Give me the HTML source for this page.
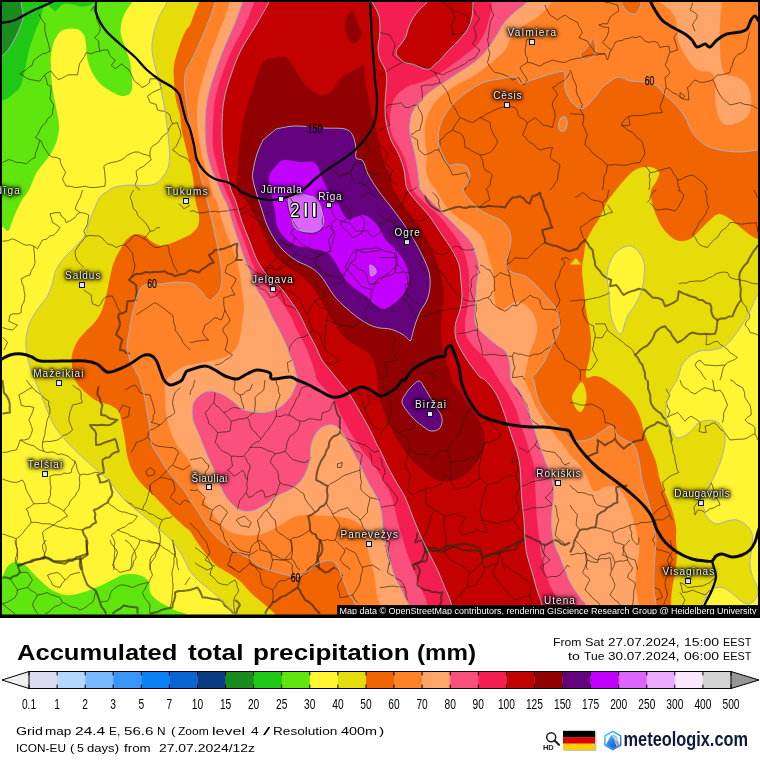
<!DOCTYPE html>
<html><head><meta charset="utf-8"><title>Accumulated total precipitation</title>
<style>
html,body{margin:0;padding:0;background:#fff}
body{width:760px;height:760px;position:relative;overflow:hidden;font-family:"Liberation Sans",sans-serif;color:#000}
#map{position:absolute;left:0;top:0;width:760px;height:618px;overflow:hidden}
#all{position:absolute;left:0;top:0;width:760px;height:760px;will-change:transform;opacity:0.9999}
.ct{position:absolute;font-size:10px;line-height:12px;color:#ededed;white-space:nowrap;
 text-shadow:0 0 2px #000,0 0 3px #000,0 0 3px #000,0 0 4px #000,0 0 5px #000,0 0 6px rgba(0,0,0,0.7)}
.t{position:absolute;white-space:nowrap;transform-origin:0 0}
.tt{top:640px;font-size:21.6px;line-height:26px;font-weight:bold}
</style></head><body><div id="all">
<div id="map">
<svg width="760" height="618" viewBox="0 0 760 618" style="position:absolute;left:0;top:0;display:block">
<g shape-rendering="geometricPrecision">
<path d="M-20,-20H800V640H-20Z" fill="#fff532"/>
<path d="M133,-8C132.8,-6.3 132.5,-0.2 132,2C131.5,4.2 131.3,2.8 130,5C128.7,7.2 125.5,11.7 124,15C122.5,18.3 121.5,21.7 121,25C120.5,28.3 120.3,31.3 121,35C121.7,38.7 123.5,42.5 125,47C126.5,51.5 128.8,56.5 130,62C131.2,67.5 131.8,75 132,80C132.2,85 132.7,89.3 131,92C129.3,94.7 126,96.5 122,96C118,95.5 111.2,91.7 107,89C102.8,86.3 99.7,83.2 97,80C94.3,76.8 92.7,73.8 91,70C89.3,66.2 87.8,61.2 87,57C86.2,52.8 86.5,48.7 86,45C85.5,41.3 85.5,37.7 84,35C82.5,32.3 79.8,30 77,29C74.2,28 69.8,28.5 67,29C64.2,29.5 62.2,29.8 60,32C57.8,34.2 55.5,38.2 54,42C52.5,45.8 51.5,50.8 51,55C50.5,59.2 50.8,62 51,67C51.2,72 51.2,78.3 52,85C52.8,91.7 54.8,100.3 56,107C57.2,113.7 58.8,119.5 59,125C59.2,130.5 58.5,135 57,140C55.5,145 53.3,149.7 50,155C46.7,160.3 40.5,166.2 37,172C33.5,177.8 31.5,185.3 29,190C26.5,194.7 24.2,196.3 22,200C19.8,203.7 17.7,208.3 16,212C14.3,215.7 13.3,218.8 12,222C10.7,225.2 9.5,230.2 8,231C6.5,231.8 5.7,228.5 3,227C0.3,225.5 -6.2,222.8 -8,222L-20,-20Z" fill="#5fe60f"/>
<path d="M-8,585C-6.3,583.7 -0.5,580 2,577C4.5,574 4.8,569.5 7,567C9.2,564.5 12,562.3 15,562C18,561.7 22.2,563.3 25,565C27.8,566.7 29.2,569.2 32,572C34.8,574.8 38.7,579 42,582C45.3,585 48.2,587.8 52,590C55.8,592.2 60.8,594.3 65,595C69.2,595.7 72.8,594.8 77,594C81.2,593.2 85.8,591.5 90,590C94.2,588.5 98.3,586.7 102,585C105.7,583.3 108.7,581.7 112,580C115.3,578.3 118.7,576 122,575C125.3,574 128.7,573.8 132,574C135.3,574.2 139.2,574.7 142,576C144.8,577.3 147.7,579.3 149,582C150.3,584.7 148.7,589 150,592C151.3,595 154.2,597.7 157,600C159.8,602.3 163.7,604.2 167,606C170.3,607.8 173.8,609.7 177,611C180.2,612.3 182.8,612.2 186,614C189.2,615.8 194.3,620.7 196,622L196,640L-20,640Z" fill="#5fe60f"/>
<path d="M97,-8C96.5,-6.5 95,-1.2 94,1C93,3.2 93,4.1 91,5C89,5.9 84.9,6.6 82,6.5C79.1,6.4 76.3,5 73.4,4.5C70.5,4 66.8,3.6 64.7,3.8C62.6,4 62.6,4.6 61,5.8C59.4,7 57.3,10.9 55.3,10.9C53.3,10.9 50.5,6.8 48.8,5.8C47.1,4.8 46,4.1 45,5C44,5.9 43.3,8.5 42.5,11C41.7,13.5 41.2,16.5 40,20C38.8,23.5 36.8,27 35,32C33.2,37 30.5,44.5 29,50C27.5,55.5 27.3,59.2 26,65C24.7,70.8 23.3,80 21,85C18.7,90 15.2,92.3 12,95C8.8,97.7 5.3,99.5 2,101C-1.3,102.5 -6.3,103.5 -8,104L-20,-20Z" fill="#1ec814"/>
<path d="M20,-8C20.2,-6.3 20.5,-1.7 21,2C21.5,5.7 22.7,11.2 23,14C23.3,16.8 23.8,16 23,19C22.2,22 19.7,28.2 18,32C16.3,35.8 14.7,39 13,42C11.3,45 9.8,47.7 8,50C6.2,52.3 4.7,54 2,56C-0.7,58 -6.3,61 -8,62L-20,-20Z" fill="#198c1e"/>
<path d="M169,-10C168.7,-8 168.5,-2.2 167,2C165.5,6.2 162.2,10 160,15C157.8,20 155.3,26.2 154,32C152.7,37.8 151.7,43.7 152,50C152.3,56.3 154.7,64.2 156,70C157.3,75.8 158.7,79.2 160,85C161.3,90.8 162.8,98.3 164,105C165.2,111.7 166.2,118.3 167,125C167.8,131.7 168.6,139.8 169,145C169.4,150.2 169.8,152.2 169.6,156C169.4,159.8 169.3,164.3 168,168C166.7,171.7 164.2,175.3 162,178C159.8,180.7 157.8,182.8 155,184C152.2,185.2 149.2,185.3 145,185.5C140.8,185.7 135,184.8 130,185C125,185.2 118.7,186 115,187C111.3,188 110.5,189.3 108,191C105.5,192.7 102.3,193.8 100,197C97.7,200.2 95.8,205.8 94,210C92.2,214.2 90.5,217.8 89,222C87.5,226.2 87.3,230.8 85,235C82.7,239.2 78.3,243.3 75,247C71.7,250.7 68.2,253.2 65,257C61.8,260.8 58.2,265.3 56,270C53.8,274.7 53.5,280.5 52,285C50.5,289.5 49.5,292.8 47,297C44.5,301.2 40,305.3 37,310C34,314.7 30.8,320 29,325C27.2,330 26.3,335 26,340C25.7,345 26.2,350 27,355C27.8,360 29.7,365.8 31,370C32.3,374.2 33.5,376.3 35,380C36.5,383.7 38,387 40,392C42,397 44.5,404.2 47,410C49.5,415.8 51.7,421.7 55,427C58.3,432.3 62.5,437 67,442C71.5,447 77,452.3 82,457C87,461.7 92.3,465.8 97,470C101.7,474.2 106.2,477.8 110,482C113.8,486.2 116.7,491.2 120,495C123.3,498.8 125.8,501.3 130,505C134.2,508.7 140,512.8 145,517C150,521.2 155.5,526 160,530C164.5,534 168.7,537.3 172,541C175.3,544.7 177.7,548.3 180,552C182.3,555.7 184.3,559.8 186,563C187.7,566.2 187.7,567.8 190,571C192.3,574.2 196.7,578.8 200,582C203.3,585.2 206.7,587.2 210,590C213.3,592.8 217.2,596.3 220,599C222.8,601.7 224.7,603.5 227,606C229.3,608.5 231.8,610.8 234,614C236.2,617.2 239,623.2 240,625L800,640L800,-40Z" fill="#e6dc0a"/>
<path d="M629,246C632,246 634.5,247.3 637,250C639.5,252.7 642.8,257.5 644,262C645.2,266.5 644.5,272 644,277C643.5,282 642.5,287.3 641,292C639.5,296.7 637.3,300.8 635,305C632.7,309.2 629.3,312.2 627,317C624.7,321.8 623.2,332.7 621,334C618.8,335.3 615.8,329 614,325C612.2,321 610.8,315.5 610,310C609.2,304.5 609.5,297.8 609,292C608.5,286.2 606.7,280.3 607,275C607.3,269.7 609,264.2 611,260C613,255.8 616,252.3 619,250C622,247.7 626,246 629,246Z" fill="#fff532"/>
<path d="M775,290C772.2,290.8 761.8,292.2 758,295C754.2,297.8 754.2,302.8 752,307C749.8,311.2 747.8,315.3 745,320C742.2,324.7 738.3,330.7 735,335C731.7,339.3 728.8,343.5 725,346C721.2,348.5 716.2,349.2 712,350C707.8,350.8 703.7,350 700,351C696.3,352 693,353.7 690,356C687,358.3 683.8,361.8 682,365C680.2,368.2 679.8,372.5 679,375C678.2,377.5 678.5,377.2 677,380C675.5,382.8 671.8,387.5 670,392C668.2,396.5 666.5,402 666,407C665.5,412 665.8,417.7 667,422C668.2,426.3 671.2,430.3 673,433C674.8,435.7 675.3,438 678,438C680.7,438 685.3,435.7 689,433C692.7,430.3 695.7,424 700,422C704.3,420 711.2,419.8 715,421C718.8,422.2 721.3,425.5 723,429C724.7,432.5 725.3,436.8 725,442C724.7,447.2 722.7,454.5 721,460C719.3,465.5 717.3,470 715,475C712.7,480 709.2,485.5 707,490C704.8,494.5 702.5,498.8 702,502C701.5,505.2 703.2,506.5 704,509C704.8,511.5 705,514.5 707,517C709,519.5 712.7,523.3 716,524C719.3,524.7 723.5,521.7 727,521C730.5,520.3 733.8,519.3 737,520C740.2,520.7 743.5,522.8 746,525C748.5,527.2 751,529.3 752,533C753,536.7 752.3,542.5 752,547C751.7,551.5 750.2,556 750,560C749.8,564 750.3,567.7 751,571C751.7,574.3 753,577.5 754,580C755,582.5 756.3,583.8 757,586C757.7,588.2 758.5,590.5 758,593C757.5,595.5 755.7,599.2 754,601C752.3,602.8 750.2,604 748,604C745.8,604 743.3,602.5 741,601C738.7,599.5 736.8,597.2 734,595C731.2,592.8 727.2,589.2 724,588C720.8,586.8 717.7,587.2 715,588C712.3,588.8 709.8,590.8 708,593C706.2,595.2 705,598.8 704,601C703,603.2 702.7,601.2 702,606C701.3,610.8 700.3,626 700,630L800,640L800,290Z" fill="#fff532"/>
<path d="M202,-10C201.7,-8.3 201.2,-3.7 200,0C198.8,3.7 196.7,7.8 195,12C193.3,16.2 191.7,21.7 190,25C188.3,28.3 186.8,28.3 185,32C183.2,35.7 180.8,41.5 179,47C177.2,52.5 174.8,59.2 174,65C173.2,70.8 173.7,76.2 174,82C174.3,87.8 175,94.5 176,100C177,105.5 179.1,110 180,115C180.9,120 180.9,125.8 181.6,130C182.3,134.2 183.1,136.3 184,140C184.9,143.7 186,148 187,152C188,156 189,159.7 190,164C191,168.3 192.2,173.4 193,178C193.8,182.6 194,187.2 194.5,191.5C195,195.8 195.2,199.5 196,203.5C196.8,207.5 198.7,211.8 199,215.5C199.3,219.2 199.3,222.9 198,226C196.7,229.1 193.8,231.8 191,234C188.2,236.2 184.4,237.4 181,239C177.6,240.6 173.7,242.3 170.5,243.5C167.3,244.7 165.1,246.2 162,246C158.9,245.8 154.8,243.7 152,242C149.2,240.3 147.7,237.3 145,236C142.3,234.7 139,233.5 136,234C133,234.5 129.7,236.3 127,239C124.3,241.7 122.2,246.2 120,250C117.8,253.8 115.7,257.5 114,262C112.3,266.5 111.2,272 110,277C108.8,282 108.3,286.5 107,292C105.7,297.5 104,305 102,310C100,315 97.8,318.3 95,322C92.2,325.7 88,328.7 85,332C82,335.3 79.2,338.2 77,342C74.8,345.8 72.8,351.2 72,355C71.2,358.8 71.5,360.8 72,365C72.5,369.2 72.8,375.5 75,380C77.2,384.5 81.3,388.5 85,392C88.7,395.5 92.8,398.8 97,401C101.2,403.2 106.3,403.2 110,405C113.7,406.8 117,408.7 119,412C121,415.3 121,420.3 122,425C123,429.7 124.2,435 125,440C125.8,445 125.8,450 127,455C128.2,460 129.8,465.5 132,470C134.2,474.5 137,478.3 140,482C143,485.7 146.7,488.7 150,492C153.3,495.3 156.3,498.2 160,502C163.7,505.8 167.8,510.8 172,515C176.2,519.2 182,524.3 185,527C188,529.7 188,528.5 190,531C192,533.5 194.2,538 197,542C199.8,546 203.7,551 207,555C210.3,559 213.7,563.2 217,566C220.3,568.8 223.2,569.5 227,572C230.8,574.5 235.8,577.3 240,581C244.2,584.7 247.8,590 252,594C256.2,598 261.2,601.7 265,605C268.8,608.3 271.8,610.5 275,614C278.2,617.5 282.5,624 284,626L671,640L671,630C671,625.8 670.8,611.7 671,605C671.2,598.3 671.3,595.5 672,590C672.7,584.5 674.2,577.8 675,572C675.8,566.2 676.8,560.3 677,555C677.2,549.7 676.2,544.7 676,540C675.8,535.3 676.7,532 676,527C675.3,522 673.7,515.3 672,510C670.3,504.7 668,500 666,495C664,490 661.7,485.5 660,480C658.3,474.5 657.7,467.5 656,462C654.3,456.5 652,452 650,447C648,442 645.7,437 644,432C642.3,427 642,422 640,417C638,412 635.3,406.5 632,402C628.7,397.5 624.3,393.7 620,390C615.7,386.3 609.3,382.2 606,380C602.7,377.8 602.2,377.7 600,377C597.8,376.3 595.2,375.8 593,376C590.8,376.2 588.2,378.7 587,378C585.8,377.3 585.7,375 586,372C586.3,369 588.2,364.5 589,360C589.8,355.5 590.8,350 591,345C591.2,340 590.8,335.8 590,330C589.2,324.2 587,316.7 586,310C585,303.3 584.7,296.7 584,290C583.3,283.3 582,275.8 582,270C582,264.2 583.3,259.7 584,255C584.7,250.3 584.7,246.2 586,242C587.3,237.8 589.7,234.2 592,230C594.3,225.8 597.5,221.7 600,217C602.5,212.3 604.3,206.5 607,202C609.7,197.5 612.7,194.2 616,190C619.3,185.8 623.5,180.5 627,177C630.5,173.5 633.2,170.7 637,169C640.8,167.3 646.3,166.5 650,167C653.7,167.5 658,169.5 659,172C660,174.5 657.3,179 656,182C654.7,185 651.7,186.7 651,190C650.3,193.3 651.2,197.8 652,202C652.8,206.2 654.3,210.8 656,215C657.7,219.2 659.7,223.5 662,227C664.3,230.5 667.2,233.7 670,236C672.8,238.3 675.7,240.5 679,241C682.3,241.5 686.5,240.8 690,239C693.5,237.2 696.7,233.2 700,230C703.3,226.8 706.8,222.7 710,220C713.2,217.3 715.7,214.2 719,214C722.3,213.8 726.5,216.8 730,219C733.5,221.2 736.7,224.3 740,227C743.3,229.7 747,233 750,235C753,237 753.8,237.3 758,239C762.2,240.7 772.2,244 775,245L800,-40Z" fill="#f06400"/>
<path d="M570,264.5L576,258L581,264.5Z" fill="#e6dc0a"/>
<path d="M582,382C583.7,382.5 585.3,388.7 586,392C586.7,395.3 586.8,398.7 586,402C585.2,405.3 582.8,411.2 581,412C579.2,412.8 576.5,409.5 575,407C573.5,404.5 571.8,400 572,397C572.2,394 574.3,391.5 576,389C577.7,386.5 580.3,381.5 582,382Z" fill="#e6dc0a"/>
<path d="M218,-10C217.7,-8.3 217.5,-5 216,0C214.5,5 211.7,13 209,20C206.3,27 203.1,35 200,42C196.9,49 192.9,57 190.5,62C188.1,67 186.5,67.8 185.5,72C184.5,76.2 184.4,82.3 184.5,87C184.6,91.7 185.3,95.3 186,100C186.7,104.7 187.5,109.2 188.5,115C189.5,120.8 190.9,129.3 192,135C193.1,140.7 194.2,144.7 195,149C195.8,153.3 196,156.2 197,161C198,165.8 199.4,171.8 201,178C202.6,184.2 204.8,191.2 206.5,198C208.2,204.8 209.9,212.1 211.5,219C213.1,225.9 214.6,232.7 216,239.5C217.4,246.3 219,253.8 220,260C221,266.2 222,272 222,277C222,282 221.3,286.7 220,290C218.7,293.3 215.8,295.3 214,297C212.2,298.7 211,300.8 209,300C207,299.2 204.3,294.5 202,292C199.7,289.5 197,286.5 195,285C193,283.5 193.3,283.5 190,283C186.7,282.5 180,281.8 175,282C170,282.2 164.7,283.7 160,284C155.3,284.3 150.3,283.2 147,284C143.7,284.8 141.8,286.3 140,289C138.2,291.7 137.3,295.7 136,300C134.7,304.3 133.2,309.7 132,315C130.8,320.3 129.8,326.7 129,332C128.2,337.3 126.8,342.3 127,347C127.2,351.7 128.5,355.8 130,360C131.5,364.2 134.3,368.7 136,372C137.7,375.3 138.7,376.2 140,380C141.3,383.8 142.8,389.7 144,395C145.2,400.3 146,406.2 147,412C148,417.8 149.2,424.5 150,430C150.8,435.5 150.5,440.5 152,445C153.5,449.5 156.5,452.8 159,457C161.5,461.2 164,465.8 167,470C170,474.2 174,478.3 177,482C180,485.7 182.8,489 185,492C187.2,495 187.5,496.2 190,500C192.5,503.8 196.7,510 200,515C203.3,520 206.3,525.5 210,530C213.7,534.5 217.5,538.3 222,542C226.5,545.7 232.3,549.2 237,552C241.7,554.8 246.7,556.8 250,559C253.3,561.2 253.3,563 257,565C260.7,567 267,569.3 272,571C277,572.7 282.8,574 287,575C291.2,576 293.7,577.5 297,577C300.3,576.5 304,574 307,572C310,570 312,566.8 315,565C318,563.2 321.8,561.5 325,561C328.2,560.5 331.5,560.2 334,562C336.5,563.8 338.2,568.2 340,572C341.8,575.8 343.3,581 345,585C346.7,589 348.3,592.8 350,596C351.7,599.2 353.3,598.7 355,604C356.7,609.3 359.2,624 360,628L360,640L656,640L656,630C656,625.8 656.3,611.7 656,605C655.7,598.3 654.3,595.5 654,590C653.7,584.5 653.8,577.8 654,572C654.2,566.2 654.7,560.3 655,555C655.3,549.7 656,543.8 656,540C656,536.2 655.7,536.2 655,532C654.3,527.8 653.3,520.8 652,515C650.7,509.2 648.7,502.8 647,497C645.3,491.2 643.3,486.2 642,480C640.7,473.8 640.3,465.8 639,460C637.7,454.2 636.3,448.3 634,445C631.7,441.7 627.8,441.8 625,440C622.2,438.2 619.3,436.3 617,434C614.7,431.7 613.5,426.5 611,426C608.5,425.5 605.5,428.8 602,431C598.5,433.2 594.5,437.3 590,439C585.5,440.7 578.7,441.3 575,441C571.3,440.7 570.2,439 568,437C565.8,435 564.7,431.8 562,429C559.3,426.2 555.3,423.7 552,420C548.7,416.3 544.5,411.2 542,407C539.5,402.8 538.3,399.5 537,395C535.7,390.5 534.8,382.8 534,380C533.2,377.2 531.5,379.3 532,378C532.5,376.7 534.8,375 537,372C539.2,369 542.5,364.5 545,360C547.5,355.5 549.7,349.7 552,345C554.3,340.3 557.8,336.7 559,332C560.2,327.3 559.7,321.2 559,317C558.3,312.8 557.3,310.7 555,307C552.7,303.3 548.3,298.8 545,295C541.7,291.2 538.3,287.2 535,284C531.7,280.8 528.8,278 525,276C521.2,274 515.2,274 512,272C508.8,270 506.5,267.3 506,264C505.5,260.7 508.2,256 509,252C509.8,248 511,243.7 511,240C511,236.3 510.5,233.2 509,230C507.5,226.8 504.8,223.3 502,221C499.2,218.7 495.7,217.8 492,216C488.3,214.2 483.7,212.7 480,210C476.3,207.3 472.8,203.3 470,200C467.2,196.7 463.5,192.5 463,190C462.5,187.5 465.8,187.5 467,185C468.2,182.5 470.2,178.2 470,175C469.8,171.8 468.2,167.8 466,166C463.8,164.2 459.8,164.2 457,164C454.2,163.8 451.2,166.2 449,165C446.8,163.8 445.7,160.3 444,157C442.3,153.7 439.8,149.5 439,145C438.2,140.5 438,135 439,130C440,125 442.3,119.7 445,115C447.7,110.3 450.8,106.2 455,102C459.2,97.8 465,93.3 470,90C475,86.7 480,83.8 485,82C490,80.2 495,79.8 500,79C505,78.2 511.7,76.2 515,77C518.3,77.8 517.8,82.8 520,83.5C522.2,84.2 524,82.8 528,81.5C532,80.2 538.5,77.7 544,76C549.5,74.3 557.6,72 561,71.5C564.4,71 563.8,71.8 564.5,73C565.2,74.2 564.9,76.3 565,79C565.1,81.7 564.2,85.5 565,89C565.8,92.5 568,97 570,100C572,103 575,105.6 577,107C579,108.4 580.2,108.8 582,108.5C583.8,108.2 585.7,107.1 588,105C590.3,102.9 593.7,98.8 596,96C598.3,93.2 599.3,90.7 602,88C604.7,85.3 609,81.8 612,80C615,78.2 617,76.8 620,77C623,77.2 626.3,80.2 630,81C633.7,81.8 637.8,81.3 642,82C646.2,82.7 651.3,83 655,85C658.7,87 660.7,90.8 664,94C667.3,97.2 671.5,100.2 675,104C678.5,107.8 682.2,112.3 685,117C687.8,121.7 688.7,127.3 692,132C695.3,136.7 700.3,142 705,145C709.7,148 714.2,148.8 720,150C725.8,151.2 733.7,152 740,152C746.3,152 752.2,150.7 758,150C763.8,149.3 772.2,148.3 775,148L800,-40Z" fill="#ff8228"/>
<path d="M618,-8C618.5,-6.3 619.5,-1.2 621,2C622.5,5.2 624.7,9 627,11C629.3,13 632.8,14.7 635,14C637.2,13.3 639,9 640,7C641,5 640.7,4.5 641,2C641.3,-0.5 641.8,-6.3 642,-8Z" fill="#f06400"/>
<path d="M232,-10C231.7,-8.3 231.2,-4.5 230,0C228.8,4.5 227.2,10.8 225,17C222.8,23.2 219.8,29.5 217,37C214.2,44.5 210.5,54.5 208,62C205.5,69.5 203.7,75.7 202,82C200.3,88.3 198.8,93.7 198,100C197.2,106.3 196.8,113.3 197,120C197.2,126.7 198,133.3 199,140C200,146.7 201.5,153.7 203,160C204.5,166.3 206.3,172.2 208,178C209.7,183.8 211.5,191 213,195C214.5,199 215.5,197.8 217,202C218.5,206.2 220.3,214.5 222,220C223.7,225.5 225,229.7 227,235C229,240.3 232,246.2 234,252C236,257.8 237.7,263.7 239,270C240.3,276.3 241.2,283.8 242,290C242.8,296.2 244,301.7 244,307C244,312.3 242.7,317 242,322C241.3,327 241.2,332.3 240,337C238.8,341.7 237.5,346.7 235,350C232.5,353.3 229.2,355.2 225,357C220.8,358.8 215.8,359.7 210,361C204.2,362.3 194.2,364.2 190,365C185.8,365.8 187.5,364.8 185,366C182.5,367.2 178,369.8 175,372C172,374.2 168.7,376.5 167,379C165.3,381.5 165.3,384.3 165,387C164.7,389.7 164.8,390.8 165,395C165.2,399.2 165.2,406.2 166,412C166.8,417.8 168.2,424.5 170,430C171.8,435.5 174.5,440.8 177,445C179.5,449.2 182.8,452 185,455C187.2,458 188,458 190,463C192,468 194.5,478.5 197,485C199.5,491.5 202,496.7 205,502C208,507.3 211.3,512.3 215,517C218.7,521.7 222.5,527 227,530C231.5,533 237,534.2 242,535C247,535.8 252,535.8 257,535C262,534.2 267.3,532.2 272,530C276.7,527.8 280.8,524.3 285,522C289.2,519.7 292.8,517.2 297,516C301.2,514.8 305.3,515 310,515C314.7,515 320,515.7 325,516C330,516.3 335.5,516.3 340,517C344.5,517.7 348.3,518.3 352,520C355.7,521.7 359.7,523.7 362,527C364.3,530.3 364.8,535.3 366,540C367.2,544.7 368,550.8 369,555C370,559.2 371,560.8 372,565C373,569.2 374.2,574.7 375,580C375.8,585.3 376.2,592.8 377,597C377.8,601.2 378.8,599.8 380,605C381.2,610.2 383.3,624.2 384,628L384,640L640,640L640,630C639.8,625.8 639.7,611.7 639,605C638.3,598.3 636.5,595.5 636,590C635.5,584.5 635.5,577.8 636,572C636.5,566.2 638.5,559.5 639,555C639.5,550.5 639.5,549.2 639,545C638.5,540.8 637.3,535.5 636,530C634.7,524.5 632.8,517.5 631,512C629.2,506.5 627.3,501.2 625,497C622.7,492.8 620.3,488.7 617,487C613.7,485.3 608.8,486.3 605,487C601.2,487.7 597,492.7 594,491C591,489.3 589.3,481.3 587,477C584.7,472.7 582.8,468.7 580,465C577.2,461.3 572.5,458 570,455C567.5,452 567.5,450.3 565,447C562.5,443.7 558.3,439.2 555,435C551.7,430.8 548.2,426.7 545,422C541.8,417.3 538.5,412 536,407C533.5,402 531.8,396.5 530,392C528.2,387.5 525.5,384.5 525,380C524.5,375.5 526.2,369.7 527,365C527.8,360.3 528.7,356.2 530,352C531.3,347.8 533.8,344.5 535,340C536.2,335.5 537.5,329.7 537,325C536.5,320.3 534,315.3 532,312C530,308.7 527.8,306.7 525,305C522.2,303.3 518,301.7 515,302C512,302.3 509.5,305.7 507,307C504.5,308.3 502,310.8 500,310C498,309.2 496,305.3 495,302C494,298.7 494.2,294.5 494,290C493.8,285.5 494.7,279.7 494,275C493.3,270.3 491.2,266.2 490,262C488.8,257.8 488.3,254.2 487,250C485.7,245.8 484.5,240.8 482,237C479.5,233.2 476.2,230.3 472,227C467.8,223.7 461.5,220.7 457,217C452.5,213.3 448.5,209.5 445,205C441.5,200.5 438.5,193.8 436,190C433.5,186.2 431.7,185.3 430,182C428.3,178.7 426.5,174.5 426,170C425.5,165.5 427.2,160 427,155C426.8,150 425.3,145 425,140C424.7,135 424.2,130 425,125C425.8,120 427.5,114.7 430,110C432.5,105.3 435.8,101 440,97C444.2,93 449.2,89.7 455,86C460.8,82.3 468.8,79 475,75C481.2,71 487,66.2 492,62C497,57.8 501.7,54.2 505,50C508.3,45.8 508.7,41.2 512,37C515.3,32.8 520.3,28.7 525,25C529.7,21.3 535.5,18.8 540,15C544.5,11.2 549.3,6.2 552,2C554.7,-2.2 555.3,-8 556,-10Z" fill="#ffa569"/>
<path d="M658,-8C658.3,-6.3 658,-1 660,2C662,5 667.3,7 670,10C672.7,13 674.8,15.8 676,20C677.2,24.2 676,30 677,35C678,40 679.5,45 682,50C684.5,55 689,61.5 692,65C695,68.5 697,69.8 700,71C703,72.2 707.7,71 710,72C712.3,73 713.2,73.7 714,77C714.8,80.3 714.7,87 715,92C715.3,97 715.2,102.3 716,107C716.8,111.7 718.2,117 720,120C721.8,123 723.3,124.8 727,125C730.7,125.2 738.2,123.2 742,121C745.8,118.8 748.5,116 750,112C751.5,108 751.5,101.5 751,97C750.5,92.5 749.3,88.3 747,85C744.7,81.7 740.7,78.8 737,77C733.3,75.2 727.7,76.5 725,74C722.3,71.5 721.8,66.8 721,62C720.2,57.2 720.2,51.2 720,45C719.8,38.8 719.8,30.8 720,25C720.2,19.2 720.7,13.8 721,10C721.3,6.2 721.7,5 722,2C722.3,-1 722.8,-6.3 723,-8Z" fill="#ffa569"/>
<path d="M245,-10C244.7,-8.3 244.8,-5.8 243,0C241.2,5.8 237.3,16.7 234,25C230.7,33.3 226.3,41.7 223,50C219.7,58.3 216.7,66.7 214,75C211.3,83.3 208.5,91.7 207,100C205.5,108.3 205.2,117.2 205,125C204.8,132.8 205.2,140.3 206,147C206.8,153.7 208.3,159.5 210,165C211.7,170.5 214,175 216,180C218,185 220.2,190.8 222,195C223.8,199.2 225.3,200.5 227,205C228.7,209.5 230.2,216.2 232,222C233.8,227.8 235.8,233.7 238,240C240.2,246.3 242.7,253.8 245,260C247.3,266.2 250,272 252,277C254,282 254.8,285.8 257,290C259.2,294.2 262.5,297.5 265,302C267.5,306.5 269.5,312 272,317C274.5,322 277.7,327.3 280,332C282.3,336.7 284.2,340.8 286,345C287.8,349.2 289.5,352.8 291,357C292.5,361.2 294,366.2 295,370C296,373.8 297,377.2 297,380C297,382.8 296.2,384.2 295,387C293.8,389.8 292.5,393.7 290,397C287.5,400.3 283.8,404.5 280,407C276.2,409.5 271.2,411.2 267,412C262.8,412.8 259.2,412.5 255,412C250.8,411.5 245.5,410.7 242,409C238.5,407.3 237.3,404.5 234,402C230.7,399.5 226,395.8 222,394C218,392.2 213.7,390.8 210,391C206.3,391.2 202.8,392.8 200,395C197.2,397.2 194.2,399.8 193,404C191.8,408.2 191.8,414.5 193,420C194.2,425.5 197.7,431.2 200,437C202.3,442.8 204.5,449.2 207,455C209.5,460.8 212.5,466.2 215,472C217.5,477.8 219.5,485 222,490C224.5,495 227,498.7 230,502C233,505.3 236.3,508.5 240,510C243.7,511.5 247.8,511.8 252,511C256.2,510.2 260.8,507.5 265,505C269.2,502.5 272.8,498.5 277,496C281.2,493.5 286.2,492.3 290,490C293.8,487.7 297.3,485 300,482C302.7,479 304.3,475.7 306,472C307.7,468.3 309.2,464.2 310,460C310.8,455.8 310.3,450.8 311,447C311.7,443.2 312.5,440 314,437C315.5,434 317.5,431 320,429C322.5,427 326.2,425.3 329,425C331.8,424.7 334.3,425 337,427C339.7,429 342.5,433.2 345,437C347.5,440.8 349.5,445.3 352,450C354.5,454.7 357.5,460 360,465C362.5,470 365,476 367,480C369,484 370.2,485.7 372,489C373.8,492.3 376.4,496 378,500C379.6,504 380.7,508.7 381.5,513C382.3,517.3 382.1,521.7 382.7,526C383.3,530.3 384.1,534.3 385,539C385.9,543.7 386.9,549.3 388,554C389.1,558.7 390.4,563 391.6,567C392.8,571 393.4,574.3 395,578C396.6,581.7 399.2,585.3 401,589C402.8,592.7 404.7,597.2 406,600C407.3,602.8 407.8,601.3 409,606C410.2,610.7 412.3,624.3 413,628L410,640L592,640L592,630C591,625.8 587.7,610 586,605C584.3,600 583.8,602.5 582,600C580.2,597.5 577,593 575,590C573,587 571.5,585 570,582C568.5,579 567.7,576.2 566,572C564.3,567.8 561.8,561.5 560,557C558.2,552.5 556.3,549.5 555,545C553.7,540.5 552.5,535.5 552,530C551.5,524.5 551.7,517.8 552,512C552.3,506.2 554,500.3 554,495C554,489.7 553.2,485 552,480C550.8,475 548.7,469.7 547,465C545.3,460.3 543.7,456.7 542,452C540.3,447.3 538.7,442 537,437C535.3,432 533.7,427 532,422C530.3,417 529,412 527,407C525,402 522.7,396.5 520,392C517.3,387.5 512.7,384.5 511,380C509.3,375.5 510.8,369.7 510,365C509.2,360.3 508.2,355.3 506,352C503.8,348.7 500.5,347.8 497,345C493.5,342.2 488.5,338.3 485,335C481.5,331.7 477.7,328.8 476,325C474.3,321.2 475,316.7 475,312C475,307.3 475.7,302 476,297C476.3,292 476.5,287 477,282C477.5,277 479.2,271.5 479,267C478.8,262.5 477.3,259.2 476,255C474.7,250.8 473.7,246.2 471,242C468.3,237.8 464,234.2 460,230C456,225.8 451.2,221.2 447,217C442.8,212.8 439.3,209.5 435,205C430.7,200.5 423.7,194.2 421,190C418.3,185.8 419.7,184.2 419,180C418.3,175.8 417.8,170 417,165C416.2,160 415.2,155.5 414,150C412.8,144.5 410.5,137.5 410,132C409.5,126.5 409.8,121.5 411,117C412.2,112.5 413.8,109.2 417,105C420.2,100.8 425.3,95.8 430,92C434.7,88.2 440,85.3 445,82C450,78.7 455,75.3 460,72C465,68.7 470.5,65.7 475,62C479.5,58.3 483.3,54.5 487,50C490.7,45.5 494,39.7 497,35C500,30.3 502,25.8 505,22C508,18.2 511.3,15.3 515,12C518.7,8.7 524.2,5.7 527,2C529.8,-1.7 531.2,-8 532,-10Z" fill="#fa507d"/>
<path d="M257,-10C256.7,-8.3 257,-5.8 255,0C253,5.8 248.8,16.7 245,25C241.2,33.3 235.8,41.7 232,50C228.2,58.3 224.8,66.7 222,75C219.2,83.3 216.5,91.7 215,100C213.5,108.3 213.3,117.2 213,125C212.7,132.8 212.3,140.3 213,147C213.7,153.7 215.7,159.8 217,165C218.3,170.2 219.5,173.5 221,178C222.5,182.5 224.2,187.5 226,192C227.8,196.5 230.2,200 232,205C233.8,210 235,216.2 237,222C239,227.8 241.7,233.7 244,240C246.3,246.3 248.5,253.8 251,260C253.5,266.2 255.8,272 259,277C262.2,282 266.5,286.2 270,290C273.5,293.8 276.7,295.8 280,300C283.3,304.2 287.2,310 290,315C292.8,320 294.5,325 297,330C299.5,335 302.7,340 305,345C307.3,350 309.3,355.5 311,360C312.7,364.5 314,368.7 315,372C316,375.3 315.2,377 317,380C318.8,383 323,386.3 326,390C329,393.7 332.3,397.5 335,402C337.7,406.5 339.2,411.5 342,417C344.8,422.5 348.7,429.5 352,435C355.3,440.5 359,445.8 362,450C365,454.2 367.7,457 370,460C372.3,463 374.3,465.5 376,468C377.7,470.5 378,471.5 380,475C382,478.5 385.9,484.8 388,489C390.1,493.2 391.3,496.3 392.5,500C393.7,503.7 394.4,507.3 395.3,511C396.2,514.7 396.9,518 398,522C399.1,526 400.5,530.7 401.7,535C402.9,539.3 404,543.7 405.4,548C406.8,552.3 408.5,557 410,561C411.5,565 413.1,568.3 414.6,572C416.1,575.7 417.5,579.3 419,583C420.5,586.7 422.4,590.3 423.8,594C425.2,597.7 426.1,599.3 427.5,605C428.9,610.7 431.2,624.2 432,628L430,640L562,640L562,630C561.2,625 558.7,606.7 557,600C555.3,593.3 554,594.7 552,590C550,585.3 546.8,577.8 545,572C543.2,566.2 542,560.8 541,555C540,549.2 539.7,542.8 539,537C538.3,531.2 537.5,525.8 537,520C536.5,514.2 536.3,507.8 536,502C535.7,496.2 535.3,490.8 535,485C534.7,479.2 534.8,472.5 534,467C533.2,461.5 531.5,457 530,452C528.5,447 526.7,442 525,437C523.3,432 521.7,427 520,422C518.3,417 517.2,412 515,407C512.8,402 509.7,396.5 507,392C504.3,387.5 500.8,382.8 499,380C497.2,377.2 497.5,377.5 496,375C494.5,372.5 492.3,368.3 490,365C487.7,361.7 485,358.3 482,355C479,351.7 474.7,348.3 472,345C469.3,341.7 467.2,338.8 466,335C464.8,331.2 464.8,326.2 465,322C465.2,317.8 466.3,314.5 467,310C467.7,305.5 468.7,300.5 469,295C469.3,289.5 469.3,282.5 469,277C468.7,271.5 468.2,267 467,262C465.8,257 464.5,252 462,247C459.5,242 455.7,237 452,232C448.3,227 444.2,221.5 440,217C435.8,212.5 431.2,209 427,205C422.8,201 417.7,196.3 415,193C412.3,189.7 412,188 411,185C410,182 410,179.2 409,175C408,170.8 406.7,164.7 405,160C403.3,155.3 401.2,151.2 399,147C396.8,142.8 393.5,139.5 392,135C390.5,130.5 390,125 390,120C390,115 390.8,109.2 392,105C393.2,100.8 394.5,98 397,95C399.5,92 402.8,89.2 407,87C411.2,84.8 417,84 422,82C427,80 432,77.8 437,75C442,72.2 447.3,68.3 452,65C456.7,61.7 460.8,58.3 465,55C469.2,51.7 473.7,48.8 477,45C480.3,41.2 482.8,37 485,32C487.2,27 488.8,20.3 490,15C491.2,9.7 491.5,4.2 492,0C492.5,-4.2 492.8,-8.3 493,-10Z" fill="#f51e50"/>
<path d="M272,-10C271.7,-8.3 272.7,-5.8 270,0C267.3,5.8 260.8,16.7 256,25C251.2,33.3 245.2,41.7 241,50C236.8,58.3 233.8,66.7 231,75C228.2,83.3 225.5,91.7 224,100C222.5,108.3 222.2,117.2 222,125C221.8,132.8 222,140.3 222.5,147C223,153.7 224.1,159.8 225,165C225.9,170.2 227,173.8 228,178C229,182.2 229.7,186 231,190C232.3,194 234.2,196.7 236,202C237.8,207.3 239.7,215.3 242,222C244.3,228.7 247.5,235.7 250,242C252.5,248.3 254.2,254.5 257,260C259.8,265.5 263.2,270.5 267,275C270.8,279.5 276.2,282.8 280,287C283.8,291.2 286.7,295.3 290,300C293.3,304.7 297.2,310 300,315C302.8,320 304.5,325 307,330C309.5,335 312.5,340 315,345C317.5,350 319.5,355.8 322,360C324.5,364.2 327.3,366.7 330,370C332.7,373.3 334.7,375.8 338,380C341.3,384.2 346.3,389.7 350,395C353.7,400.3 356.7,406.2 360,412C363.3,417.8 367.2,424.5 370,430C372.8,435.5 375.3,441.7 377,445C378.7,448.3 378.3,446.7 380,450C381.7,453.3 384.5,460 387,465C389.5,470 392,474.7 395,480C398,485.3 402.2,491.2 405,497C407.8,502.8 409.7,509.2 412,515C414.3,520.8 417,527.3 419,532C421,536.7 422.2,539.2 424,543C425.8,546.8 427.7,550.3 430,555C432.3,559.7 435.5,565.5 438,571C440.5,576.5 442.8,582.7 445,588C447.2,593.3 449.2,596.3 451,603C452.8,609.7 455.2,623.8 456,628L456,640L548,640L548,630C547,625.8 543.8,611.7 542,605C540.2,598.3 538.7,595.5 537,590C535.3,584.5 533.7,577.8 532,572C530.3,566.2 528.2,560.3 527,555C525.8,549.7 525.5,545.8 525,540C524.5,534.2 524.5,526.3 524,520C523.5,513.7 522.5,507.8 522,502C521.5,496.2 521.3,490.8 521,485C520.7,479.2 520.7,472.5 520,467C519.3,461.5 518.3,457 517,452C515.7,447 513.7,442 512,437C510.3,432 508.7,427 507,422C505.3,417 504,412 502,407C500,402 497.8,396.5 495,392C492.2,387.5 487.5,382.5 485,380C482.5,377.5 482.2,379.2 480,377C477.8,374.8 474.7,370.7 472,367C469.3,363.3 466.5,359.2 464,355C461.5,350.8 458.5,345.8 457,342C455.5,338.2 455.2,335.3 455,332C454.8,328.7 455.2,325.7 456,322C456.8,318.3 459,314.2 460,310C461,305.8 461.8,301.7 462,297C462.2,292.3 461.5,287.3 461,282C460.5,276.7 460.5,270.3 459,265C457.5,259.7 454.8,255 452,250C449.2,245 445.7,240.5 442,235C438.3,229.5 434.2,222.5 430,217C425.8,211.5 420.5,206.2 417,202C413.5,197.8 410.8,194.8 409,192C407.2,189.2 406.8,188.7 406,185C405.2,181.3 405.2,175 404,170C402.8,165 401.2,160 399,155C396.8,150 393.2,145.5 391,140C388.8,134.5 387,127.8 386,122C385,116.2 385,110.3 385,105C385,99.7 385.7,94.2 386,90C386.3,85.8 386.7,83 386.7,80C386.7,77 386.5,74.3 386,72C385.5,69.7 384.6,68.3 383.5,66C382.4,63.7 380.4,61.2 379.5,58C378.6,54.8 378,50.5 378,47C378,43.5 379.2,40.5 379.5,37C379.8,33.5 380.1,29.5 380,26C379.9,22.5 379.8,19 379,16C378.2,13 376.8,10.7 375.5,8C374.2,5.3 372.2,3 371,0C369.8,-3 368.5,-8.3 368,-10Z" fill="#c30000"/>
<path d="M426.8,-8C426.8,-6.3 427.9,-0.8 426.8,2C425.7,4.8 422.2,6.5 420,9C417.8,11.5 415.6,13.9 413.7,17C411.8,20.1 409.7,24.3 408.4,27.6C407.1,30.9 407.1,33.9 405.8,36.8C404.5,39.6 402,42.5 400.5,44.7C399,46.9 397.2,48.3 396.6,50C396,51.7 396,53.5 396.6,55C397.2,56.5 399.2,57.8 400.5,59C401.8,60.2 402.3,61.6 404.5,62.5C406.7,63.4 410.6,63.5 413.7,64.5C416.8,65.5 420.3,67.7 423,68.4C425.7,69.2 428.1,69.7 430,69C431.9,68.3 433,66 434.7,64.5C436.4,63 437.9,62.1 440,60C442.1,57.9 444.2,55 447,52C449.8,49 453.7,45.7 457,42C460.3,38.3 464.5,34.2 467,30C469.5,25.8 471,21.7 472,17C473,12.3 472.8,6.2 473,2C473.2,-2.2 473,-6.3 473,-8Z" fill="#c30000"/>
<path d="M265,60C267.7,58 271.5,58.5 275,58C278.5,57.5 283.1,55.8 286,57C288.9,58.2 290.2,61.6 292.5,65C294.8,68.4 297.1,73.5 300,77.5C302.9,81.5 306.2,86.1 310,89C313.8,91.9 318.8,94.8 322.5,95C326.2,95.2 329.6,92.7 332.5,90C335.4,87.3 337.1,81.9 340,79C342.9,76.1 346.1,74.7 350,72.5C353.9,70.3 361.3,65.6 363.7,66C366.1,66.4 364.1,71.8 364.5,75C364.9,78.2 365.4,81.7 366,85C366.6,88.3 367.2,90.5 368,95C368.8,99.5 369.8,107 371,112C372.2,117 373.7,120.3 375,125C376.3,129.7 377.8,135 379,140C380.2,145 380.8,150.5 382,155C383.2,159.5 384.7,163.7 386,167C387.3,170.3 388.8,171.5 390,175C391.2,178.5 390.2,182.2 393,188C395.8,193.8 402.5,203.5 407,210C411.5,216.5 416.2,221.2 420,227C423.8,232.8 427.2,239.2 430,245C432.8,250.8 435,256.2 437,262C439,267.8 440.8,274.2 442,280C443.2,285.8 444,291.2 444,297C444,302.8 442.5,309.5 442,315C441.5,320.5 441,325 441,330C441,335 441.2,340 442,345C442.8,350 444.7,355.5 446,360C447.3,364.5 449,368.7 450,372C451,375.3 450.3,376.7 452,380C453.7,383.3 457,387.5 460,392C463,396.5 466.7,402 470,407C473.3,412 477.5,417 480,422C482.5,427 484.7,432 485,437C485.3,442 483.7,447.3 482,452C480.3,456.7 477.8,461.2 475,465C472.2,468.8 468.8,472.3 465,475C461.2,477.7 456.7,480.2 452,481C447.3,481.8 441.5,481.5 437,480C432.5,478.5 429.2,475.3 425,472C420.8,468.7 415.8,464.2 412,460C408.2,455.8 405.3,452 402,447C398.7,442 394.8,435.3 392,430C389.2,424.7 387,420 385,415C383,410 381.2,405 380,400C378.8,395 378.7,390 378,385C377.3,380 377,374.5 376,370C375,365.5 374,361.3 372,358C370,354.7 366.8,352.2 364,350C361.2,347.8 358.7,347.5 355,345C351.3,342.5 345.8,339.2 342,335C338.2,330.8 335.3,325.5 332,320C328.7,314.5 325.3,307.5 322,302C318.7,296.5 315.7,291.5 312,287C308.3,282.5 304.5,278.7 300,275C295.5,271.3 289.7,268.8 285,265C280.3,261.2 275.5,257 272,252C268.5,247 266.8,240.8 264,235C261.2,229.2 257.8,222.5 255,217C252.2,211.5 249.9,206.5 247,202C244.1,197.5 239.1,195.3 237.5,190C235.9,184.7 237.2,176.7 237.5,170C237.8,163.3 238.2,157.5 239,150C239.8,142.5 241.1,132.5 242.5,125C243.9,117.5 245.6,111.7 247.5,105C249.4,98.3 252.1,90.8 254,85C255.9,79.2 257.2,74.2 259,70C260.8,65.8 262.3,62 265,60Z" fill="#910000"/>
<path d="M352.5,10.5C354.3,10.8 355.5,17.8 357,22C358.5,26.2 362.4,31.9 361.7,35.5C360.9,39.1 355.1,44 352.5,43.4C349.9,42.8 347.1,35.9 346,32C344.9,28.1 344.9,23.6 346,20C347.1,16.4 350.7,10.2 352.5,10.5Z" fill="#910000"/>
<path d="M276,129C279.2,128.5 287.2,126.2 295,126C302.8,125.8 314.7,127.5 323,128C331.3,128.5 340,127.7 345,129C350,130.3 351.2,132.7 353,136C354.8,139.3 355.5,145.3 356,149C356.5,152.7 354.8,156 356,158C357.2,160 361,158.3 363,161C365,163.7 365.5,169.2 368,174C370.5,178.8 374.2,184.5 378,190C381.8,195.5 386.8,201.5 391,207C395.2,212.5 399.2,217.5 403,223C406.8,228.5 410.8,234.7 414,240C417.2,245.3 419.5,249.7 422,255C424.5,260.3 427.7,266.7 429,272C430.3,277.3 430.3,282.3 430,287C429.7,291.7 428.7,295.8 427,300C425.3,304.2 422,307.8 420,312C418,316.2 416.5,320.3 415,325C413.5,329.7 411.7,337.5 411,340L410,341C408.7,339.8 405.3,336 402,334C398.7,332 393.7,330 390,329C386.3,328 383.3,328.7 380,328C376.7,327.3 373.8,326.8 370,325C366.2,323.2 361.2,320 357,317C352.8,314 348.7,310.3 345,307C341.3,303.7 338,300.7 335,297C332,293.3 329.5,288.7 327,285C324.5,281.3 322.8,278 320,275C317.2,272 313.8,269.3 310,267C306.2,264.7 301.2,263.5 297,261C292.8,258.5 288.7,255.5 285,252C281.3,248.5 278,244.5 275,240C272,235.5 269.2,230 267,225C264.8,220 263.7,215 262,210C260.3,205 258.5,200 257,195C255.5,190 253.7,184 253,180C252.3,176 252.3,175.3 253,171C253.7,166.7 255.3,159.2 257,154C258.7,148.8 262,142.3 263,140Z" fill="#64007d"/>
<path d="M419,381C421.2,381 422.2,384.3 424,387C425.8,389.7 428,393.7 430,397C432,400.3 434.2,404 436,407C437.8,410 440,412.5 441,415C442,417.5 442.3,419.7 442,422C441.7,424.3 440.8,427.5 439,429C437.2,430.5 433.5,431.3 431,431C428.5,430.7 426.7,428.8 424,427C421.3,425.2 417.8,422.7 415,420C412.2,417.3 409.2,414 407,411C404.8,408 402.3,404.7 402,402C401.7,399.3 403.5,397.5 405,395C406.5,392.5 408.7,389.3 411,387C413.3,384.7 416.8,381 419,381Z" fill="#64007d"/>
<path d="M284,160C288,159.5 296.2,161.7 301,162C305.8,162.3 310,160.8 313,162C316,163.2 317.3,166 319,169C320.7,172 321.5,176.5 323,180C324.5,183.5 325.7,186.5 328,190C330.3,193.5 334.7,197.3 337,201C339.3,204.7 340,208.8 342,212C344,215.2 346.7,219.3 349,220C351.3,220.7 353,216.7 356,216C359,215.3 363.3,214.3 367,216C370.7,217.7 374.8,222 378,226C381.2,230 382.8,235.8 386,240C389.2,244.2 393.7,246.8 397,251C400.3,255.2 404,260.3 406,265C408,269.7 409,274.8 409,279C409,283.2 408,286.3 406,290C404,293.7 400.7,297.8 397,301C393.3,304.2 388,308.7 384,309C380,309.3 376.3,305.3 373,303C369.7,300.7 367.3,297.7 364,295C360.7,292.3 356.2,289.7 353,287C349.8,284.3 347.3,282 345,279C342.7,276 341.3,272.8 339,269C336.7,265.2 333.7,259 331,256C328.3,253 326.7,252.3 323,251C319.3,249.7 313.7,249 309,248C304.3,247 299.2,246.8 295,245C290.8,243.2 287,240.2 284,237C281,233.8 278.5,230.2 277,226C275.5,221.8 275.8,216.7 275,212C274.2,207.3 273,202.5 272,198C271,193.5 269.3,189 269,185C268.7,181 268.7,177.3 270,174C271.3,170.7 274.7,167.3 277,165C279.3,162.7 280,160.5 284,160Z" fill="#c300ff"/>
<path d="M288.4,199.5C288.7,197.9 289.7,197.6 291,196.8C292.3,196 294.2,195.3 296,194.8C297.8,194.3 299.6,193.5 301.6,193.7C303.6,193.9 305.7,195.1 308,195.8C310.3,196.5 313.4,196.5 315.3,197.9C317.2,199.3 318.3,201.6 319.5,204.2C320.7,206.8 321.9,210.7 322.6,213.7C323.3,216.7 323.9,219.7 323.7,222C323.5,224.3 323,225.8 321.6,227.4C320.2,229 317.6,230.8 315.3,231.6C313,232.4 310.3,232.1 308,232C305.7,231.9 303.7,231.7 301.6,231C299.5,230.3 296.8,229.5 295.3,228C293.8,226.5 293.3,224.2 292.6,222C291.9,219.8 291.6,217.3 291,214.7C290.4,212.1 289.4,208.8 289,206.3C288.6,203.8 288.1,201.1 288.4,199.5Z" fill="#dc64ff"/>
<path d="M370,265C370.8,264.7 374,266.7 375,268C376,269.3 376.7,271.7 376,273C375.3,274.3 372,276.5 371,276C370,275.5 370.2,271.8 370,270C369.8,268.2 369.2,265.3 370,265Z" fill="#dc64ff"/>
<path d="M580.4,54C580.8,52.6 583.4,51.7 585,50C586.6,48.3 588.8,45.9 590,44C591.2,42.1 591.5,38.7 592.3,38.5C593.1,38.3 594.5,41.1 595,43C595.5,44.9 595.9,47.8 595.6,50C595.3,52.2 594.4,54.5 593,56C591.6,57.5 588.7,58.6 587,59C585.3,59.4 583.7,59 582.6,58.2C581.5,57.4 580,55.4 580.4,54Z" fill="#f06400" stroke="#a6aec0" stroke-width="1"/>
<ellipse cx="563" cy="124" rx="4.2" ry="7.5" fill="#ff8228" stroke="#a6aec0" stroke-width="1" transform="rotate(8 563 124)"/>
</g>
<g fill="none" stroke="#2e1c00" stroke-opacity="0.64" stroke-width="1" stroke-linejoin="round">
<path d="M38.8,13.8L41.2,18.8L45,23.8L44.7,27.5L45.1,31.3L45.8,35L47.4,40L48.8,45L50,51.2L46.4,52.9L42.5,53.8L39.6,55.8L36.8,58L33.8,60L32,65.5L28.7,67.2L26.2,69.9L23,71.7L20,73.8L23.3,75.8L26.3,78.1L30,79.5L35,80.4L40,81.2L42,77.9L44.5,75"/>
<path d="M44.5,75L47.6,72.6L51.2,71.2L53.8,75L58,79.5L61.4,78.5L64.5,76.9L67.5,75L72.5,74.6L77.5,75L78.2,71.2L78.8,67.5L79.5,63.8L82,60.1L84.4,56.5L86.2,52.5L91.2,53.8L95.4,51.9L100,51.2L103.9,49.9L108,50L110,55.5L112.4,58.2L115.5,60L111.2,65.5L115.5,68.8L118.7,66.2L122,63.8L124.4,66.8L127.9,68.7L130,72L132,76L133.8,80L136.3,82.8L139.5,84.7L142,87.5L146.1,85.6L149.5,82.5L150,78.8L156.2,78.8L160,82.5L161.2,88.8"/>
<path d="M90.5,11.2L93.8,6.2L94.3,10.8L96.2,15L96.8,19.6L98.8,23.8L100.1,27.4L100,31.2L97.7,34.8L94.5,37.5L98.8,41.2L98.8,46.3L100,51.2"/>
<path d="M44.5,75L46.4,79.9L47.5,85L51.2,86.2L50.8,90.4L50.6,94.6L50,98.8L51.7,102L53.8,105L52.9,109.3L52.5,113.8L50.5,116.7L47.5,118.8L45.6,122.9L42.1,126L40,130L38.1,133.9L35.5,137.5L41.2,141.2L43.8,147.5L46.6,151L48.8,155L52.2,157L56.3,157.5L60,158.8L60.5,162.6L62,166.2L63.8,169.4L65.5,172.5L62.5,178.8L64.2,182.6L66.2,186.2L70.7,186.3L75,187.5L80,187.1L85,186.2L89.9,187.5L95,187.5L100,186.9L105,186.2L105.4,181.2L105,176.2L104.6,171.2L103.8,166.2L107.2,163.8L111.2,162.5L116.4,161.7L121.2,160L124.3,158L126.9,155.6L130,153.8L134.2,152.1L138.8,152L142.3,154L146.3,154.8L150,156.2L151.2,160L147.3,162.9L143.8,166.2L139.7,168.2L136.2,171.2L136.5,175.1L137.5,178.8L135,185L137,188L140,190"/>
<path d="M2.5,162.5L8.8,159.5L12.7,160.6L16.2,162.5L21.3,162.5L26.2,163.8L29.1,161.5L31.8,159.1L35,157.5L35.3,153.6L36.8,150L38,146.2L40,140"/>
<path d="M161.2,88.8L156.8,90.4L152.5,92.5L147.5,96.2L150,102.5L156.2,104.5L157.5,110L161.2,111L165,111.2L170,115L170.8,119.5L172.5,123.8L169.4,127.8L167.5,132.5L164.7,134.7L162,137L160,140L157.6,143.1L154.2,145L151.2,147.5L149.9,151.8L150,156.2"/>
<path d="M172.5,123.8L177.5,122.5L178.3,126.4L180,130L181.2,136.2L179.1,139.4L177.9,142.9L176.2,146.2L172.5,150L175.9,152.2L178.8,155L185,157.5L188.1,159.4L190,162.5"/>
<path d="M82.5,190L81.5,193.4L80.5,196.9L78.8,200L76.7,204.3L75,208.8L80,212.5L84.6,213.1L88.8,215L88.1,219.4L87.5,223.8L85.8,227.6L83.8,231.2L86.2,236.2L90.4,235.4L94.6,235.9L98.8,235.8L102.2,237.9L104.7,241L107.5,243.8L112.1,245L116.2,247.5L120.4,245.6L125,245L127.4,242.4L130.4,240.4L132.1,237.1L135,235L139.5,236.5L143.8,238.8L147,235.1L150,231.2L148.1,226.5L145,222.5L142.6,219.9L139.9,217.6L137.5,215L136.5,211.3L133.5,208.7L132.5,205L131.8,201.1L130,197.5L131.6,193.6L133.8,190"/>
<path d="M50,213.8L54.9,212.7L60,212.5L61.5,216.2L64.7,218.8L66.2,222.5L70.8,220.3L75,217.5L77,214.5L80,212.5"/>
<path d="M50,213.8L51.3,218.1L52.5,222.5L56.4,224.8L60,227.5L57.3,231.6L53.8,235L49.8,236.1L46.6,239.1L42.5,240L40,244.4L37.5,248.8L33.8,246.2L30.1,244.8L26.1,245.2L22.5,243.8L19.2,242L15.9,240.2L12.5,238.8L7.7,240.7L2.5,241.2"/>
<path d="M33.8,246.2L33.9,250.3L34.5,254.4L34.6,258.4L35,262.5L33.8,266.8L31.2,270.6L30,275L25.4,276.4L21.2,278.8L21.9,282.9L23.7,286.8L24,290.9L25,295L24.5,298.6L23.9,302.1L22,305.3L21.2,308.8L21.2,312.5L17.7,314L13.6,313.6L10,315L8.8,321.2L13.1,323.3L17.5,325L15.1,327.6L12.5,330L7.4,329.1L2.5,327.5"/>
<path d="M86.2,236.2L83.2,240L80,243.8L77.4,247.4L75,251.2L75.6,256.4L77.5,261.2L80.7,264.3L83.8,267.5"/>
<path d="M83.8,290L87.5,292.5L91.2,295L91.6,299.4L92.5,303.8L98.8,306.2L101,303.5L102.5,300.1L105,297.5L108.6,296.1L112.5,296.2L114.3,299.9L116.2,303.6L117.5,307.5L119.6,310.9L122.5,313.8"/>
<path d="M125,245L127.8,247.2L129.8,250.2L132.5,252.5L133,256.7L133.6,260.9L135,265L134.2,269.3L132.9,273.5L131.2,277.5"/>
<path d="M143.8,238.8L146.9,240.4L149.2,243.4L152,245.5L155,247.5L159.3,247.4L163.3,245.5L167.5,245L168.9,248.4L169.1,252.1L170.3,255.6L171.8,258.9L172.5,262.5L173.9,266L176,269.1L177.5,272.5"/>
<path d="M150,231.2L153.6,230.7L156.4,228L160,227.5"/>
<path d="M136.2,315L139.9,312.3L143.7,310L147.5,307.5L151.2,304.9L155,302.5L158.8,304.9L162.5,307.5L165.9,309.9L169,312.7L172.5,315L173.5,318.7L173.5,322.5L175.1,326.1L175,330L177.3,332.8L179.2,335.9L181.5,338.7L182.7,342.2L185,345L187.7,347.3L190,350"/>
<path d="M3.8,350L5.7,346.3L7.5,342.5L5.3,339.7L2.5,337.5"/>
<path d="M178.8,203.8L181.6,205.9L183.8,208.8L187,207.1L190,205"/>
<path d="M26.2,380L29.2,383.9L32.5,387.5L28.8,389L25.6,391.2L22.2,393.1L18.8,395L20.2,400L21.2,405L25.3,406.6L29.6,406.3L33.8,407.5L32.6,411.9L30.8,416L28.8,420L30.4,423.2L31.5,426.6L32.5,430L31,434.5L28.8,438.8L24.5,440L20,440L19,443.4L17.8,446.8L16.2,450L11.6,450.7L7.2,452.1L2.5,452.5"/>
<path d="M32.5,387.5L35,390.5L38.1,392.7L41.2,395L44.7,398.5L48.8,401.2L48.5,405.1L50,408.7L50,412.5L48.9,415.9L47.5,419.2L46.6,422.7L46.2,426.2L45.2,430.3L44.9,434.5L43.6,438.5L42.5,442.5L42.3,447L43.8,451.2L40.1,450.2L36.8,448.3L33.9,445.8L30.1,444.9L26.6,443.6L23.3,441.9L20,440"/>
<path d="M42.5,442.5L46.2,441.3L50,441.5L53.8,440.8L57.5,440L60.5,438L63.2,435.6L66.8,434.4L69.8,432.4L72.5,430L71.3,426.7L70,423.3L68.8,420L69.3,416.1L69.9,412.3L71.4,408.7L72.5,405L77.5,403.9L82.5,402.5L81,398.5L81.3,394.1L80,390L76,387.9L72.5,385"/>
<path d="M43.8,451.2L47.2,452.6L50.9,451.9L54.5,452.4L57.8,454.5L61.5,453.9L65,455L68.7,456.6L71.5,459.4L75,461.2L74,465.1L71.9,468.6L71.2,472.5L67.8,473.5L64,473L60.7,474.7L57.1,474.8L53.4,474.9L50,476.2L50.1,480L50.2,483.8L51.2,487.5L50.3,491.2L50.7,495.1L48.8,498.6L48.8,502.5L52.4,504.8L56.4,506.6L60.2,508.6L63.8,511.2L67.5,516.2L63.8,518L60.6,520.5L56.8,522.2L53.8,525L49.8,527.1L45.8,529.4L42.5,532.5L43.1,536L43.7,539.6L44.6,543L45.9,546.4L46.2,550L44.3,554.8L43.8,560"/>
<path d="M2.5,478.8L5.8,480.3L9.2,481.3L12.6,482.2L16.2,482.5L22.5,480L24.8,483.9L25.7,488.4L27.5,492.5L29.7,496.2L31.6,500L33.8,503.8L30.3,506.7L26.2,508.8L28,512L28.8,515.6L30.4,518.9L31.2,522.5L28.2,526.3L25,530L22.6,533.5L19.6,536.3L16.2,538.8L12.9,537.2L9.3,536.4L5.9,535L2.5,533.8"/>
<path d="M16.2,538.8L16.3,542.5L16.5,546.3L17.5,550L16.7,555.1L15,560L16.2,563.5L18.8,566.2"/>
<path d="M75,461.2L76.4,464.6L76.9,468.4L78.2,471.8L80,475L83.7,474L87.6,474.6L91.3,473.7L94.9,472.3L98.8,472.5"/>
<path d="M80,475L79.3,478.7L79.8,482.5L79.5,486.3L78.8,490L76.5,492.9L75,496.5L72,498.9L69.8,501.9L68.6,505.6L65.7,508L63.8,511.2"/>
<path d="M33.8,503.8L37.5,503.7L41.3,503.4L45.1,503.5L48.8,502.5"/>
<path d="M31.2,522.5L35.1,522.3L38.8,522.7L42.5,523.9L46.3,523.7L50.1,524L53.8,525"/>
<path d="M107.5,502.5L110.8,505.1L114.3,507.3L117.5,510L121.3,511.8L125.6,512.2L129.5,513.8L133.6,514.8L137.5,516.2L135.1,519.5L132.5,522.5L128.4,523.7L125.3,526.8L121.3,528.2L117.5,530L114.7,532.8L111.2,535L113.3,538.6L115,542.5L114,546.4L114.9,550.4L114.3,554.3L114.4,558.2L113.7,562.1L114,566.1L113.8,570"/>
<path d="M117.5,530L120.7,531.5L124.1,532.5L127.4,533.6L130.3,535.9L133.8,536.7L136.9,538.2L140,540L144,540.6L148,541.7L151.9,543L156,542.9L160,543.8L160.4,539.1L160,534.5L158.8,530L159.6,526.5L160.6,523.1L162.5,520L165.6,518.2L169.4,518L172.5,516.2"/>
<path d="M140,540L138.8,544.1L136.8,547.8L134.5,551.3L132.5,555L131.6,558.7L131.8,562.6L131.2,566.4L130,570"/>
<path d="M160,543.8L158.6,547.4L156.4,550.5L154.3,553.7L151.5,556.4L150,560L150,565L150,570"/>
<path d="M172.5,540L173.2,544.2L174,548.4L175,552.5L175.3,556.1L176.8,559.4L177,563.1L177.4,566.6L178.8,570"/>
<path d="M118.8,412.5L120.7,408.8L122.5,405L126.2,406.4L130,407.5L128.8,411.8L128.8,416.2L122.5,418.8"/>
<path d="M131.2,452.5L133,449.2L134.9,446L136.2,442.5L140.2,441.2L144,439.7L147.5,437.5L148.4,433.6L150,430L153.7,429L156.7,426.8L160,425L162.8,422.8L165.3,420.3L167.5,417.5L171.6,415.6L175,412.5L173.4,407.6L172.5,402.5L173.5,397.4L175,392.5L177.7,390.2L180,387.5"/>
<path d="M147.5,437.5L150.2,439.8L152,443L155,445L158.4,446.2L161.9,446.7L165.4,447L168.9,447.6L172.5,447.5L176.1,449.4L178.8,452.5L176.5,456.6L174.9,461L172.5,465L169.7,467.2L167.6,470.1L164.9,472.4L162.5,475L160,477.5L156.6,479.9L153,482.1L150,485L150.5,490.2L152.5,495"/>
<path d="M150,467.5L155,471.2L153.8,475L147.5,476.2L145.8,471.2L150,467.5"/>
<path d="M172.5,465L175.7,466.9L179.2,468.2L182.5,470L186.4,467.8L190,465"/>
<path d="M160,477.5L164.3,477.9L168.4,479L172.5,480L174.2,484.9L175,490L172.6,493.8L170,497.5L173.3,500.1L176.5,502.7L180,505L182.2,502.2L185,500L190,502.5"/>
<path d="M152.5,402.5L153.8,407.5L155,412.5L153.2,415.6L153.2,419.4L151.2,422.5L155.7,423.4L160,425"/>
<path d="M125,390L128.2,388.2L131.5,386.3L135,385L137.9,388.5L140,392.5L144.8,394.4L150,395L151.1,398.8L152.5,402.5"/>
<path d="M125,500L128.2,502.7L132.1,504.4L135,507.5L138.9,508.4L142.5,510L143.8,505.7L146.2,501.8L147.5,497.5L148.6,493.4L149.8,489.3L150,485"/>
<path d="M142.5,510L146.2,511L149,513.6L152.8,514.5L155.9,516.6L159,518.6L162.5,520"/>
<path d="M82.5,530L78.5,529.6L74.5,528.9L70.6,527.9L66.4,528.5L62.5,527.5L58,526.7L53.8,525"/>
<path d="M215,392.5L214.7,397.5L213.8,402.5L210.8,405.8L208.4,409.6L205,412.5L206.5,416.2L208.1,419.8L208.8,423.8L212.2,426.1L214.8,429.3L217.5,432.5L216.8,437.6L215,442.5L217.7,445.2L219.7,448.6L222.5,451.2L227.2,453.1L231.2,456.2L231.7,461.3L232.5,466.2L227.5,470L231,472.7L233.8,476.2L236.9,474.6L239.8,472.4L242.5,470L244.6,473.1L245.3,476.9L247.5,480L246.7,484.1L247.3,488.4L246.2,492.5L243.2,496.3L240,500L238.4,504.9L237.5,510"/>
<path d="M213.8,402.5L215.8,405.4L218.9,407.4L221.1,410.1L223.8,412.5L227.3,411.3L230.2,408.8L233.8,407.5L238.1,408.1L242.5,408.8"/>
<path d="M223.8,412.5L226.4,415.3L228.8,418.3L231.2,421.2L230.7,426.3L230,431.2L225.9,431.9L221.7,432.1L217.5,432.5"/>
<path d="M231.2,421.2L235.3,420.4L239.2,418.8L243.5,418.8L247.5,417.5L249.5,421.5L250.2,426.1L252.5,430L255.8,432.6L258,436.1L261.2,438.8L258.8,441.4L255.2,442.5L252.4,444.8L250,447.5L248.4,450.8L245.6,453.2L243.8,456.2L239.6,456.7L235.4,456.2L231.2,456.2"/>
<path d="M247.5,417.5L250.9,414.4L255,412.5"/>
<path d="M261.2,438.8L263.5,435.7L265.5,432.5L268.2,429.9L269.9,426.5L272.5,423.8L274.3,420L276.2,416.2L280.5,416.6L284.5,414.8L288.8,415L292.6,416.8L296.1,419.4L300,421.2L299.4,425.8L297.5,430L294.1,433.6L290,436.2L288.3,439.8L286.8,443.5L286.5,447.6L285,451.2L280.1,453L275,453.8L271.9,451.5L268,450.9L264.8,448.9L261.2,447.5L257.5,447.3L253.8,447.3L250,447.5"/>
<path d="M288.8,415L290.5,410.6L292.9,406.7L295,402.5L296.4,398.5L299.2,395.2L300.2,391.1L302.5,387.5L306.3,386.3L310,385"/>
<path d="M300,421.2L304.3,421.2L308.2,418.9L312.5,418.8L316.8,419.7L321.2,420L321.8,416.2L322.5,412.5L326.5,411.9L330,410L331.7,405.6L333.8,401.2"/>
<path d="M285,451.2L287.8,454.3L290.4,457.5L293.8,460L297.5,460.8L301.2,462L305,462.5L308.6,460.5L311.2,457.5"/>
<path d="M275,453.8L271.9,457.8L270,462.5L272.9,465L274.9,468.4L277.5,471.2L278.4,475L278.4,478.9L280,482.5L278.9,486.3L277.6,490L276.2,493.8L272.5,494.9L268.8,496.4L265,497.5L264.4,493.5L262.5,490L258.8,491.3L255.5,493.4L252.5,496.2L248.8,497.5L246.2,492.5"/>
<path d="M243.8,456.2L246.4,458.8L247.3,462.5L250,465L249.9,468.8L248.4,472.4L247.6,476.2L247.5,480"/>
<path d="M280,482.5L283.5,484.5L287.5,485.1L291.3,486.2L295,487.5L297.9,489.6L300.6,492L303.8,493.8L304.9,498.4L307.5,502.5L310.1,505.8L312.8,508.9L315,512.5"/>
<path d="M276.2,493.8L275.3,497.8L272.8,501.2L271.2,505L269.3,508L266.2,510L269.1,513.3L271.5,517.2L275,520L276,525L276.2,530L279.2,533.1L283,535.2L286.2,538L290,540L293.9,537.6L298.5,537L302.5,535L306.3,532.5L310,530"/>
<path d="M266.2,510L263.2,513.2L260.8,517L257.5,520L258.5,525.1L260,530L258.1,534.8L257.5,540L259.5,544.8L260,550L265,551.2L270,552.5L271.5,556.2L272.5,560L276.2,559.4L280,560.1L283.8,560L287.5,559.5L291.2,558.8L292.5,552.5L291.5,548.4L291.4,544L290,540"/>
<path d="M235,380L234.8,385.1L233.8,390L236.4,393L240,395L243.7,394L246.3,391L250,390L252.5,383.8"/>
<path d="M240,395L241.2,398.4L241.8,401.9L243.2,405.2L243.8,408.8"/>
<path d="M265,380L264.4,385L263.8,390L260.8,392.4L257.6,394.6L255,397.5L255.3,401.2L255.3,405L254.7,408.8L255,412.5"/>
<path d="M276.2,380L276.5,383.9L278.6,387.4L278.3,391.4L280,395L279.1,398.5L277.6,401.7L276.2,405L275.6,408.8L276.5,412.5L276.2,416.2"/>
<path d="M195,380L193.8,383.8L192.8,387.6L190.6,391L190,395"/>
<path d="M190,460L193.7,459.1L197.5,458.5L201.2,457.5L203.9,459.9L205.8,463L208.8,465L208.2,468.6L205.5,471.4L205,475"/>
<path d="M197.5,490L200.1,492.4L202.7,494.8L205,497.5L203.2,501.1L202.5,505L205.9,506.6L209.1,508.4L212.5,510L211.2,515L210,520L213.4,521.4L216.6,523.5L220,525L220.6,529L223.1,532.3L223.7,536.3L225,540L227.2,542.9L228.5,546.4L230.5,549.5L232.5,552.5L236.7,552.4L240.7,553.1L244.7,554.4L248.8,555L253.4,553L257.5,550"/>
<path d="M212.5,510L215.9,506.9L220,505L222.6,507.4L225.3,509.7L227.5,512.5L225.1,516.3L222.5,520L220,525"/>
<path d="M236.2,520L240.4,517.5L245,516.2L247.8,519.7L251.2,522.5L248.8,527.5L245.1,526.1L241.2,526.2L238.6,523.2L236.2,520"/>
<path d="M190,522.5L192.2,525.3L194.5,528L197.5,530L199.7,533.6L202,537.1L205,540L207.2,543.9L208.2,548.4L210,552.5L207.6,556.3L205,560L208.5,561.8L211.4,564.7L215,566.2"/>
<path d="M232.5,552.5L230.6,556.6L229.8,561.1L227.5,565L231.5,567.1L235,570"/>
<path d="M248.8,555L249.4,560.2L251.2,565L255.1,566.4L258.8,568.3L262.5,570"/>
<path d="M272.5,560L271.5,565.1L270,570"/>
<path d="M291.2,558.8L294,561.1L295.5,564.5L297.2,567.7L300,570"/>
<path d="M327.5,486.2L330.8,483.7L334.5,481.8L338.1,479.6L341.5,477.2L345,475L348.8,473.9L352.5,472.5L356.3,471.3L360,470L360.2,466.2L360.6,462.4L361.5,458.7L362.5,455L359.4,452.1L355.4,450.6L352.5,447.5L349.8,444.3L347.4,440.9L345,437.5L342.6,434.9L340,432.5"/>
<path d="M337.5,463.8L342.5,462.5L341.2,467.5L337.5,467.5L337.5,463.8"/>
<path d="M360,470L360.3,474L360.6,478L361.5,482L360.6,486L361.2,490L364,492.7L366.9,495.2L370,497.5L369.4,501.3L368.5,505L367.5,508.6L367.5,512.5L364.8,514.8L362.7,517.7L360,520L357.9,517.1L354.8,515.2L352,513L349.7,510.3L347.5,507.5L343.8,509.1L339.8,510.1L336.3,512.4L332.5,513.8L330.6,509.9L328,506.4L326.2,502.5"/>
<path d="M360,520L361.9,523.2L362.7,527L365,530L367.8,532.2L370.2,534.8L372.6,537.4L375,540L377.2,537.2L380,535"/>
<path d="M332.5,513.8L334.6,517.8L337.7,521.1L340,525L339.1,528.9L337,532.3L336.8,536.4L335,540L337.5,542.5L339.9,545.1L342.4,547.6L345,550L343.8,553.6L341.5,556.6L340,560L342.5,562.5L344.6,565.4L348,567L350,570"/>
<path d="M320,540L323.8,540.5L327.5,539.4L331.2,540.7L335,540"/>
<path d="M352.5,387.5L355.4,389.6L357.7,392.3L360,395L361.8,398.6L362.9,402.4L363.5,406.3L365,410L367,405.9L370,402.5L368.5,398.8L367.5,395L371,396.2L373.8,399L377.5,400"/>
<path d="M365,410L367.2,413.6L368.7,417.5L370.3,421.4L372.5,425L375.8,428.1L380,430"/>
<path d="M345,437.5L348.7,439.2L352.5,440.8L356.2,442.5L360.6,443.8L365,445L368.4,447.4L371.3,450.4L375,452.5L380,450"/>
<path d="M370,452.5L371.4,456.6L371.7,460.8L372.5,465L376.2,467.5L380,470"/>
<path d="M370,497.5L375,498.7L380,500"/>
<path d="M190,490L193.8,490.4L197.5,490"/>
<path d="M390,401.2L390.9,404.9L390.7,408.8L391.2,412.5L390.6,416.4L388.1,419.8L387.5,423.8L390.6,425.5L393.2,428.1L395.7,430.7L398.8,432.5L402.8,435.6L407.5,437.5L408.2,441.7L408.9,445.9L410,450L408.7,453.4L407,456.7L406.7,460.5L405,463.8L406.4,467.6L408.2,471.3L410,475L409.4,478.8L408.9,482.5L408.9,486.4L407.5,490L409.9,492.6L412.5,495L416.6,492.8L420.9,491L425,488.8L428.7,487.7L432.7,487.5L436.3,486.2L440,485L441.9,481.8L442.9,478.1L445,475L448.2,477.4L451.2,480"/>
<path d="M398.8,432.5L402.3,432L405.4,429.9L409.2,430.2L412.5,428.8L414.8,424.8L417.5,421.2"/>
<path d="M410,450L414.1,452L417.5,455L421.2,454.1L425.1,454.7L428.8,453.8L430.6,456.9L432.5,460L434.7,456.5L437.3,453.2L440,450L443.7,450.7L447.5,451.2L449.1,446.8L451.2,442.5L454.4,439.8L456.7,436.2L460,433.8L461,429.3L462.5,425L463.4,420.7L465.4,416.8L466.2,412.5L469.7,410.4L472.5,407.5"/>
<path d="M447.5,451.2L448.5,455L449.7,458.6L450,462.5L449.6,466L450.3,469.5L450.7,473L450.7,476.5L451.2,480L452,483.5L453.5,486.8L455,490L459.9,488.2L465,487.5L469.1,486L472.2,482.6L476,480.4L480,478.8L484.1,481.5L487.5,485L492.5,483.6L497.5,482.5L500.8,480.9L503.5,478.3L506.6,476.4L510,475L516.2,476.2"/>
<path d="M480,478.8L478.9,474.2L479.3,469.6L478.8,465L480.6,461.5L480.3,457.3L482.4,453.9L482.4,449.8L483.8,446.2L485,442.5L489.3,442.3L493.3,440.5L497.5,440L499.6,437L501.2,433.8L497.9,431.8L495.8,428.3L492.5,426.2L490,420L486.7,421.3L483.6,423.2L480,423.8"/>
<path d="M450,462.5L454.1,461.6L458.3,461L462.5,461.2L465.9,459.8L469.2,458L472.5,456.2L474.2,459.5L476.2,462.5L477.5,459.1L479.1,455.8L481.2,452.7L482.5,449.4L483.2,445.7L485,442.5"/>
<path d="M425,488.8L426,492.8L426.1,496.8L425.6,501L426.2,505L430.9,507L435,510L432.7,513L431.2,516.4L430,520L428.4,524.9L427.5,530L425.9,533.4L423.7,536.4L422.5,540"/>
<path d="M435,510L438.4,512L441.6,514.3L445,516.2L450,515.1L455,513.8L458.7,515.1L462.3,516.7L466.2,517.5L463.7,520.2L462.3,523.6L460.2,526.6L458.8,530L462.5,535L466.3,533.9L470,532.5L473.9,531.8L477.5,530L482.3,532L487.5,532.5L485.9,528.3L484.4,524.1L482.5,520L480.6,515.2L480,510L481.4,505.9L481.9,501.7L482.5,497.5L484.4,493.4L485.3,489L487.5,485"/>
<path d="M445,516.2L443.9,519.9L444.2,523.8L443.8,527.5L444.5,531.7L445.6,535.8L446.2,540L446.4,543.8L445.6,547.5L445,551.2"/>
<path d="M480,520L483.5,520.8L487.1,520.9L490.6,521.9L494,522.9L497.5,523.8L501,521.8L505,521.2L509,520.7L512.5,518.8L514.5,515.8L517.1,513.2L518.8,510L518.9,506.1L516.7,502.6L516.1,498.9L516.2,495L518,491.2L520,487.5L519.4,483.5L517.4,480L516.2,476.2L517.3,472.3L517.8,468.2L517.4,464L518.8,460L515,461.3L511.2,462.5L513.1,459.3L514.1,455.6L516.2,452.5"/>
<path d="M512.5,518.8L514.7,522.3L517.5,525.3L519.4,529L522.5,531.8L525,535"/>
<path d="M520,487.5L523.2,485.6L527,484.8L530,482.5L534.1,481.5L538.2,480.4L542.5,480L546.9,478.8L551,477.1L555,475L554.1,478.7L554.5,482.6L553.3,486.3L552.5,490L550.2,492.7L547.8,495.3L545,497.5L547.7,499.8L550.3,502.2L552.5,505L548.3,505.8L544.3,507.4L540,507.5L536.5,507.9L532.9,507.7L529.5,509L526,509.8L522.5,510"/>
<path d="M518.8,447.5L523.4,449.6L527.5,452.5L530.3,450.3L532.4,447.4L535,445L538.4,448L542.5,450L546.6,451.3L550.8,451.8L555,452.5L557.4,455.7L560.6,458.3L562,462.3L565,465L570,462.5"/>
<path d="M515,387.5L517.7,390.7L519.6,394.5L522.5,397.5L524.4,400.7L526.5,403.9L527.5,407.5L528.8,412.5L530,417.5L532.2,420.3L534.8,422.7L538,424.5L540,427.5"/>
<path d="M537.5,440L535,445"/>
<path d="M555,505L556.5,508.6L556.9,512.5L557.4,516.4L558.8,520L557.5,523.7L556.5,527.4L556,531.3L555,535L557.2,537.8L560,540L563,542L565,545"/>
<path d="M382.5,385L383.9,388.3L385.9,391.3L386.3,395.1L387.9,398.3L390,401.2"/>
<path d="M380,457.5L381.8,461.1L382.3,465.1L384.3,468.6L385,472.5L383.4,476.1L382.5,480L384.9,482.6L387.6,484.9L390,487.5L392.3,490.9L394.9,494.2L397.5,497.5L396.9,501.5L395,505L391.2,505.6L387.5,506.1L383.7,506.8L380,507.5"/>
<path d="M380,537.5L383,539.9L386.7,540.8L390,542.5L388.8,546.6L388,550.8L387.5,555L389.2,559.9L390,565"/>
<path d="M482.5,557.5L482.6,561.8L483.6,566L485,570"/>
<path d="M500,552.5L500.4,556.2L502.2,559.4L502.6,563.1L503.3,566.7L505,570"/>
<path d="M545,545L544.3,548.5L543.6,552.1L544.7,555.8L542.9,559.2L542.7,562.8L543.6,566.5L542.5,570"/>
<path d="M380,435L382.2,431L385.1,427.6L387.5,423.8"/>
<path d="M570,402.5L575.1,403.2L580,405L583.8,405.1L587.6,404.8L591.2,403.8L595.1,405.7L598.9,407.6L602.5,410L603.8,414.1L604.8,418.2L605,422.5L608.5,423.3L611.8,424.6L615,426.2L614.4,430.4L615.5,434.6L615,438.8"/>
<path d="M671.2,442.5L672.3,445.9L672.8,449.5L673.4,453L674.9,456.4L675,460L676.2,464.2L676.8,468.5L678.8,472.5L674.3,474.3L670,476.2L666.2,479.4L662.5,482.5L663.3,486.4L665,490L661.2,492.5L663,496.6L664.9,500.7L666.2,505L667,508.5L669.2,511.5L670,515L672.5,520"/>
<path d="M666.2,388.8L667.5,392.2L670,395L668.3,398.8L666.2,402.5L667.7,407.1L670,411.2L667.5,417.5L670.7,415.5L674.2,414.1L677.5,412.5L680.3,415.2L682.4,418.4L685,421.2L687.7,418.2L691.2,416.2L694.2,418.2L697.3,420.2L700,422.5L700.1,427L698.8,431.2L702.4,432.4L706.2,432.5L705,426.2L709.6,425L713.8,422.5L717.3,425.2L720,428.8L725,432.5L727.3,436.4L730,440L733.8,439.7L737.5,439.3L741.3,439.2L745,438.8L748.4,437.3L751.5,435.1L755,433.8L758,440"/>
<path d="M680,380L681.4,384L683.8,387.5L687.7,389.2L690.9,392.3L695,393.8L698.3,391.7L701.6,389.4L705,387.5L708.3,388.9L711.9,389.5L715,391.2L720,390L722.9,394.1L725,398.8L727.5,405L725.7,408.8L723.8,412.5L723.6,417.6L722.5,422.5"/>
<path d="M712.5,380L713.4,383.7L713.9,387.6L715,391.2"/>
<path d="M730,380L733.5,381.2L735.9,384.3L739.2,385.9L742.5,387.5L744.5,392.3L745,397.5L747.4,401.3L750,405L751,409.9L751.2,415L747.7,417L745,420L748,423L751.9,424.7L755,427.5L755,433.8"/>
<path d="M711.2,482.5L712.9,486.8L713.8,491.2L715.9,494.4L716.6,498.2L718.8,501.4L720,505L716.6,506.1L713.5,508L710,508.8L705,512.5L701.5,510.5L697.5,510L695,515L694.7,511.2L693.8,507.5L696.6,503.5L700,500L701.5,496.7L704.6,494.5L706.2,491.2L709.3,487.2L711.2,482.5"/>
<path d="M570,485L572.1,487.9L575.3,489.7L577.5,492.5L581.4,492.5L585.1,493.1L588.7,494.8L592.5,495L593.7,498.6L595.1,502L597.5,505L602.4,506.5L607.5,507.5"/>
<path d="M570,505L572.1,508.6L574.9,511.8L577.5,515L576.5,520L576.2,525L580,530"/>
<path d="M595,527.5L598.6,528.1L602.1,529L605.5,530.3L609.2,531L612.5,532.5L615.9,530.9L619.3,528.9L623,528L626.5,526.6L630,525L633.7,524.1L637.6,524.2L641.1,522.4L645,522.5L650.2,522L655,520"/>
<path d="M612.5,532.5L613.4,537.6L615,542.5L619.5,543.3L623.8,545L623.8,550.1L622.5,555L626.7,556.5L630.7,558.7L635,560L636.6,564.9L637.5,570"/>
<path d="M630,525L630,528.9L631.8,532.4L631.4,536.3L632.5,540L635,542.5L637.5,545L638.9,541.4L638.8,537.5"/>
<path d="M570,555L573.8,554.4L577.4,553.3L581.4,553.8L585,552.5L588,554.6L591.2,556.4L594,558.7L597.5,560L601.5,558.5L605.9,558.8L610,557.5L610.9,561.6L611.2,565.8L611.2,570"/>
<path d="M585,552.5L586.2,555.9L585.9,559.5L586.7,563L586.3,566.6L587.5,570"/>
<path d="M670,515L666.2,517.5L662.5,520L658.8,519.8L655,520"/>
<path d="M655,520L656.1,524.1L656.5,528.3L656.2,532.5L654.5,536.3L652.5,540L654.7,543.1L655.3,547L657.5,550L661.4,550.1L665,551.7L668.8,552.5L670.9,556.1L672.5,560L670.3,563.1L669.7,566.9L667.5,570"/>
<path d="M666.2,505L661.5,506.9L657.5,510L654.9,512.4L652.5,515"/>
<path d="M575,197.5L579.1,195.5L582.5,192.5L586.1,194.6L588.9,197.9L592.5,200L597.6,200.9L602.5,202.5L605.3,200.3L607.5,197.5L607.9,193.7L608.8,190"/>
<path d="M602.5,202.5L603.2,206.7L604,210.9L605,215L600,216.3L595,217.5L591.1,219.8L587.5,222.5L583.8,225L580,227.5L581.3,231.9L582.5,236.2L585,240"/>
<path d="M605,215L608.5,213.1L612.5,212.5L610.2,208.6L607.5,205"/>
<path d="M647.5,202.5L649.8,199.5L650.5,195.6L652.5,192.5L656.2,190"/>
<path d="M650,202.5L653,206.3L656.2,210L660.7,209.8L665,208.8L670.1,209.6L675,211.2L678,207.8L680,203.8L682.4,199.6L683.8,195L681.1,191.9L677.5,190"/>
<path d="M705,190L705.7,193.5L706.9,196.9L706.9,200.6L707.5,204.1L708.8,207.5L706.7,210.4L705.8,214L703.7,216.9L701.8,219.9L699.1,222.4L697.7,225.7L696.1,228.9L694.1,231.8L692.5,235L695.5,238L697.3,241.8L700,245L703.7,246.5L707.5,247.5L709.7,244.4L712.3,241.8L714.9,239.1L718,236.9L719.8,233.5L721.9,230.3L725.4,228.4L727.9,225.7L730,222.5L733.8,222.6L737.5,223.5L741.2,224.2L745,223.8L748.7,223.2L752.5,223.2L756.2,222.5L757.1,227.5L758,232.5"/>
<path d="M678.8,283.8L682.5,282.9L686.3,283.1L689.9,281.5L693.7,281.3L697.5,280.9L701.3,281.2L705,280L708.6,277.9L712.6,276.4L716,273.8L720,272.5L723.8,272L727.5,272.5L730,277.5L734.9,279.1L740,280"/>
<path d="M740,280L743.6,280.6L747.2,281.4L750.7,282.9L754.3,283.6L758,283.8"/>
<path d="M585,300L589.2,299.2L593.3,298.3L597.5,297.5L601.8,296.2L606,294.6L610,292.5"/>
<path d="M570,301.2L575,300.6L580,300L585,300L584.2,305.1L582.5,310L583.4,314.5L585.2,318.6L587.5,322.5L590.4,324.7L593.8,326.2L593.6,330.1L595.3,333.7L595,337.5L598.8,337.9L602.5,337.5L604.5,333.4L607.5,330L605,323.8L600,323.9L595,323.8"/>
<path d="M607.5,330L610.5,332.7L613.6,335.2L616.8,337.6L620,340L623.3,342.5L626.4,345.4L630,347.5L633,350.9L635,355"/>
<path d="M595,337.5L594,341.6L593.3,345.8L592.5,350L594.3,353.3L595.5,356.9L597.5,360L595.1,363.4L593,367L590,370L585,369.8L580,370L580.7,375L580,380"/>
<path d="M570,362.5L573.7,364.5L576.8,367.4L580,370"/>
<path d="M706.2,333.8L706.7,337.5L706.3,341.2L706.2,345L710.1,344.1L713.6,342.1L717.5,341.2L720.2,344.5L724,346.6L727.3,349.3L730,352.5L733.8,354.9L737.5,357.5L734.5,359.6L731.1,361L727.8,362.5L725,365L723,368.5L722.2,372.4L721.3,376.3L720,380"/>
<path d="M695,365L696.9,361.9L700,360L702.3,362.7L705,365L709,365.1L713,365.6L717,365.7L721,365.3L725,365"/>
<path d="M695,365L697.2,368.6L700.5,371.3L702.5,375L706.2,380"/>
<path d="M741.2,300L743.4,303.8L746.3,307.1L747.4,311.5L750,315L748.8,318.6L746.4,321.5L745,325L748.2,328.3L750,332.5L754.1,333.4L758,335"/>
<path d="M757.5,197.5L755.7,193.7L753.8,190"/>
<path d="M380,215L383,217.6L386.4,219.6L390,221.2L393.8,220.5L397.5,220.8L401.2,220.8L405,221.2L409,221.4L413,220.7L417,220.6L421,220.7L425,220L427.6,217.6L430,215"/>
<path d="M395,247.5L395.9,251.7L396.7,255.8L397.5,260L396,264L395.5,268.3L395,272.5L398.8,273L402.5,271.8L406.2,272.4L410,272.5L410.5,277.5L411.2,282.5L405,285L406.3,290L407.5,295L410.4,297.1L412.6,299.9L415,302.5L418.8,305L422.5,307.5L419.4,310.9L417.5,315"/>
<path d="M432.5,265L435.5,268L438.9,270.4L442.5,272.5L443.6,276.1L446.5,278.8L447.5,282.5L450.6,285.4L452.7,289L455,292.5L458.1,295.4L461.5,297.7L465,300L469.9,301.3L475,301.2L476.2,305L471.6,305.2L467.1,306.7L462.5,307.5L458.5,308L454.6,309.1L450.4,308.5L446.6,310.2L442.5,310L438.8,311.5L435,312.6L431.2,313.6L427.6,315.3L423.8,316.4L420,317.5"/>
<path d="M430,247.5L432.9,249.6L435,252.5L438.7,253.9L442.5,255L446.5,252.9L450,250L455,246.2L458.6,246.8L461.6,248.8L465,250L470.1,250L475,248.8"/>
<path d="M440,211.2L439.8,207.5L438.6,203.8L438.8,200L436.2,195.8L432.5,192.5"/>
<path d="M475,265L477.6,268.7L480,272.5L476.1,274.8L472.5,277.5L470.9,281.5L471.6,286L470,290L471.4,293.9L472.6,297.8L475,301.2"/>
<path d="M476.2,305L476.3,310.1L475,315L476,318.7L476.8,322.4L477.6,326.1L477.5,330L472.4,330.8L467.5,332.5L462.5,333L457.5,333.8"/>
<path d="M477.5,330L477.8,334.3L478.5,338.5L480,342.5L481.3,346.6L482,350.8L482.5,355L486.2,355L490,354.5L493.8,354.3L497.5,355L501.2,355.7L505,355.4L508.7,356.3L512.5,356.2L513.8,352.5L517.7,354.1L521.9,354.3L525.8,355.7L530,356.2L534,354.3L538.5,354.2L542.5,352.5L545.3,349.5L549.1,347.9L551.9,345L555,342.5"/>
<path d="M512.5,356.2L513,360.1L513.6,363.9L515,367.5L513.1,372.3L512.5,377.5L517.5,377.1L522.5,376.2L525,380"/>
<path d="M475,301.2L479.4,300.7L483.3,298.6L487.5,297.5L490.4,299.6L492,303L494.7,305.3L497.5,307.5L501.2,309.6L505,311.2L509.2,308.6L512.5,305L516.2,306.2L519.1,304.2L521.3,301.2L524.8,299.8L527.4,297.4L530,295L533.1,297.2L536.8,298L540,300L540.5,304.6L542.5,308.8L546.6,309.5L550.9,309.3L555,310L558.8,312.5"/>
<path d="M487.5,297.5L490.6,295.6L492,292L495,290L494.2,285.9L494.7,281.6L493.8,277.5L497.3,275.5L500,272.5L503.3,273.8L506.6,275.1L510,276.2L510.3,280.9L510.9,285.6L512.5,290L512.8,294.2L513.9,298.2L515.3,302.2L516.2,306.2"/>
<path d="M480,265L483.5,266.2L486.4,268.9L490,270L492.1,273.7L493.8,277.5"/>
<path d="M510,276.2L508.9,272.5L507.6,268.7L506.2,265L509.6,263L512.6,260.6L515,257.5L519.1,258.4L523.3,258.2L527.5,258.8L530,255.9L532.9,253.2L535,250L538.4,247.6L541.5,244.7L545,242.5"/>
<path d="M555,310L556.6,306.7L558.9,303.6L560,300L558.4,296.4L557.3,292.6L555.8,288.9L555,285L556.2,280.6L559,276.9L560,272.5L561.1,268.9L563.4,265.9L565,262.5L561.2,258.8L566.2,257.5L570,260"/>
<path d="M558.8,312.5L559,316.7L560,320.8L560,325L556.7,328.1L552.5,330L553.6,334.1L554.6,338.2L555,342.5L557.1,346.5L560,350L562.3,353L563.7,356.5L565,360L570,362.5"/>
<path d="M487.5,190L488.5,195.1L490,200L486.2,201.7L482.9,204.1L480,207"/>
<path d="M510,250L509.2,253.8L507.9,257.4L507.6,261.3L506.2,265"/>
<path d="M387.5,332.5L390.4,334.6L392.7,337.3L395,340L394.3,345.1L392.5,350L394,353.4L395.5,356.8L397.5,360L393.3,360.8L389.2,361.6L385,362.5L385.3,366.8L386.3,370.9L387.5,375L383.8,377.5L380,380"/>
<path d="M452.5,340L451.2,345L450,350L452.4,353.4L455.3,356.4L457.5,360"/>
<path d="M427.5,372.5L431.5,373.1L435,375L433.8,380"/>
<path d="M380,257.5L383.8,257.6L387.5,257.4L391.2,257.6L395,257.5"/>
<path d="M380,280L383.5,277.5L387.4,276L391.6,275L395,272.5"/>
<path d="M190,211.2L193.8,210.8L197.4,212.6L201.2,212.8L205,212.5L208.5,211.6L212,211.6L215.5,211.2L219,212.1L222.5,211.2L226.3,211.1L230,210.1L233.8,210L238.1,209.3L242.5,208.8L246.5,206L250,202.5L254.9,200.8L260,200"/>
<path d="M236.2,260L232.1,262.9L227.5,265L226.1,268.7L225,272.5L228.8,274.5L232.6,276.4L236.2,278.8L234.4,283.5L231.2,287.5L232.8,291.4L235,295L231.1,295.1L227.6,297L223.8,297.5L223.7,301.7L223.9,305.9L225,310L226.3,313.5L228.3,316.7L230,320L228,323.7L224.6,326.4L222.5,330L224.3,333.3L226.5,336.3L227.5,340L226.8,345.1L225,350L228.7,352.6L232.5,355L229.4,357.9L225.7,359.9L222.5,362.5L218.9,364.3L215,365"/>
<path d="M215,317.5L211.9,320.3L208.7,323L205,325L203.9,328.8L202.5,332.5L205.1,336.7L208.8,340L204.9,340.1L201.2,340.6L197.4,341L193.7,342L190,342.5"/>
<path d="M215,317.5L221.2,320L222.9,316.8L223.8,313.3L225,310"/>
<path d="M250,215L253.2,216.7L255.9,219.2L259,221.1L262.3,222.5L265,225L266.5,228.4L269,231.1L270.3,234.6L272.5,237.5L274.1,242.4L275,247.5L276.1,252.5L277.5,257.5L274.6,259.6L272.4,262.4L270,265L273.5,267L276.2,270L279.4,267.7L281.8,264.7L285,262.5L289.9,260.7L295,260L297.2,262.8L300,265L305,264.5L310,265L312.7,267.3L315,270L318.1,273.3L320,277.5L317,280.9L315,285L318.7,287.6L322.5,290L323.9,293.7L325,297.5L320,298.8L315,300L317.5,303.8L320,307.5L325,308.6L330,310L328.4,313.2L327.6,316.7L326.2,320L329.8,320.8L333.1,322.7L336.6,323.6L340,325L344.3,325.4L348.5,326.1L352.5,327.5L356.2,325.4L358.7,321.9L362.5,320"/>
<path d="M270,265L267.2,267.2L265,270L267,273.7L269.9,276.7L272.5,280L276,282.3L279.4,284.7L282.5,287.5L280.3,291.5L277.5,295L273.9,296.8L270,297.5L267.9,293.5L265,290L261.3,289L258.6,286.1L255,285"/>
<path d="M282.5,287.5L285.6,289.6L289.1,290.9L292.5,292.5L294.5,295.5L297.9,297.1L300,300L301.7,303.8L303.2,307.8L305,311.6L307.5,315L309.2,318.6L309.2,322.8L311.5,326.2L312.5,330L310.4,332.9L307.5,335L303.5,337.2L298.9,337.7L295,340L292.4,343L290.2,346.3L288.8,350L289.5,353.5L290.9,356.8L292.5,360L287.5,362.5L287.9,367.5L288.8,372.5"/>
<path d="M307.5,315L309.2,311.1L310.8,307.3L313.6,304L315,300"/>
<path d="M312.5,330L316.4,332.3L320,335L321,338.8L322.1,342.6L323.4,346.4L325,350L328,352L331.1,353.8L333.7,356.5L337.1,357.9L340,360L336.1,362.2L332.5,365L326.2,362.5"/>
<path d="M325,350L325.6,346.3L325.2,342.5L324.7,338.7L325.4,335L325.3,331.2L325.5,327.5L326.7,323.8L326.2,320"/>
<path d="M280,242.5L283.4,244.1L287,245.2L290,247.5L291.8,244.2L293.8,241L295,237.5L297.5,240L300,242.5L302.7,245L306.2,246.4L309.7,247.5L312.5,250L316.2,252.5L320,255L323.3,253.7L326.8,252.9L330,251.2L330.9,247.1L332.9,243.2L333.3,238.9L335,235L333.4,231.4L330.9,228.3L328.8,225L325,230"/>
<path d="M290,215L292.4,218.9L292.9,223.5L295,227.5L292.8,230.3L290,232.5L292.9,234.6L295,237.5"/>
<path d="M320,255L316.9,258.3L315,262.5L317.5,265.6L319.9,268.8L322.2,272.1L325,275L328.7,276.1L332.6,275.5L336.2,277.4L340,277.5L342.9,275.4L345,272.5L343.6,277.5L342.5,282.5L338.6,283.3L335,285"/>
<path d="M345,272.5L347.3,269.5L349,266.2L350,262.5L355,260L356.2,255.1L356.2,250L360.6,251.5L365,252.5L368.8,252.3L372.5,251L376.3,251L380,250"/>
<path d="M340,222.5L343.6,221.4L346.5,218.7L350,217.5L355.1,216.8L360,215L363.1,218.4L365,222.5L363.7,227.5L362.5,232.5L359.2,234.2L356.2,236.5L352.5,237.5L350.4,234.6L348,232L345,230L342.1,226.5L340,222.5"/>
<path d="M345,205L348,208L349.8,211.8L352.5,215"/>
<path d="M360,197.5L363.4,195.9L366.4,193.6L370,192.5L373.5,194.8L376.8,197.3L380,200"/>
<path d="M350,262.5L353,264.4L356.2,266.1L358.6,269.1L362.1,270.3L365,272.5L367,276.5L367.9,281L370,285L374.9,283.4L380,282.5"/>
<path d="M362.5,295L366.6,297L370,300L372.2,304L375,307.5L378.1,309.4L380,312.5"/>
<path d="M276.2,195L280.2,197.2L284,199.7L287.5,202.5L287.7,206.8L288.9,210.9L290,215"/>
<path d="M362.5,320L366.4,322.3L370.7,323.8L375,325"/>
<path d="M365,140L366.9,143.2L368.5,146.6L370,150L367.4,153.3L365.1,156.7L362.5,160L364.4,164.8L365,170L368.2,171.9L371.3,174L375,175L380,172.5"/>
<path d="M332.5,170L336.4,172.3L340,175L345,173.7L350,172.5L351.8,169.2L353.5,165.9L355,162.5L358.5,160.5L362.5,160"/>
<path d="M350,172.5L351.3,176L352.8,179.4L355,182.5L360.1,183.3L365,185L368,183L369.7,179.7L372.7,177.7L375,175"/>
<path d="M380,32.5L385,33.7L390,35L392.2,39.6L395,43.8L394.7,47.6L393.3,51.2L392.5,55L395.4,58.1L398.9,60.3L402.5,62.5L398.7,64.3L395,66.2L391.5,68.1L388.3,70.3L385,72.5L380,75"/>
<path d="M442.5,2.5L446.2,4.5L448.9,7.8L452.5,10L455.6,11.8L459.3,12.1L462.5,13.8L467.5,16.2L468.8,20.6L470,25L466.9,28.3L465,32.5L460.9,33.9L456.5,33.6L452.5,35L452.3,29.9L451.2,25L453.8,21.6L455,17.5L453.1,14L452.5,10"/>
<path d="M472.5,3.8L473.4,7.6L474.6,11.4L476.2,15L480,18.8L477.4,21.3L475.8,24.6L473.8,27.5L475.6,32.4L476.2,37.5L474.5,40.7L472.5,43.8L476.1,47L480,50L477.5,53.8L475,57.5L471.8,59.2L468.4,60.7L465.7,63.3L462.5,65L458.8,67.1L455,68.8L450.9,71L446.5,72.6L442.5,75L438.8,73.6L435,72.5L436.2,76.1L439,78.8L440,82.5L436.2,83.7L432.5,85L428.7,84.9L424.9,85.2L421.2,86.2L422,90.8L422.3,95.4L422.5,100L419.6,102.1L417.5,105"/>
<path d="M440,82.5L442.7,85.7L445.3,89L447.5,92.5L449.2,96.6L450.2,101.1L452.5,105L454.6,108L456.4,111.2L457.9,114.5L460,117.5L457.7,121.4L455,125L452.5,130L449.1,132.2L445.8,134.4L443.4,137.9L440,140L439.9,145.1L438.8,150L441,153.7L442.7,157.7L444.8,161.6L447.5,165L449.4,168.2L451.1,171.5L452.5,175L457.1,174.5L461.7,173.5L466.2,172.5L467.6,176.5L470,180L468.7,183.5L466,186.3L465,190"/>
<path d="M490,5L491.2,8.4L491.9,11.9L493.8,15L492.1,18.2L490.5,21.4L490,25L489.3,28.7L488.7,32.5L488.6,36.3L487.5,40L488.6,44.5L488.5,49.3L490,53.8L488.7,58.1L487.5,62.5L489.4,66.3L491.9,69.6L495,72.5L500.1,73.3L505,75L509,77.1L512.5,80L518.8,77.5L520.8,81.6L523.8,85L527.5,80L525.6,76.9L523.4,73.9L521.6,70.8L520,67.5L523.6,64.8L527.5,62.5L527.3,58.2L525.4,54.3L525,50L526,45L526.2,40L532.5,37.5"/>
<path d="M417.5,105L413.2,105.3L409.3,107.3L405,107.5L401.2,102.5L396.8,103.9L392.1,104.3L387.5,105L385,110L386.6,113.6L387,117.7L388.4,121.4L390,125L386.4,126.1L383.3,128.3L380,130"/>
<path d="M417.5,105L419,109.2L421.5,113.1L422.5,117.5L422.1,121.8L420.6,125.8L420,130L416.4,131.1L413.4,133.5L410,135L413.6,137.7L417.5,140L417.8,145L418.8,150L421.8,152.6L425,155L428.5,153.6L431.9,152.2L435,150L438.8,150"/>
<path d="M460,117.5L464.1,119.4L468.2,121.1L472.5,122.5L476.4,120.3L480,117.5L483.5,116.3L486.5,113.8L490,112.5L493.7,110.5L497.5,108.8L500.9,107.7L504.3,106.7L507.5,105L511.1,106.7L515,107.5"/>
<path d="M452.5,130L455.8,131.7L459.4,132.8L462.5,135L464.1,139L464.7,143.2L465,147.5L469,148.8L472.4,151.4L476.3,153.1L480,155L485.2,154.4L490,152.5L493.1,149.6L495.4,146.2L497.5,142.5L496.3,138.9L494.4,135.7L492.5,132.5L490.7,127.6L490,122.5L486.7,120.7L483.3,119.2L480,117.5"/>
<path d="M515,107.5L517.3,110.5L518,114.3L520,117.5L524.1,119.5L527.5,122.5L531.5,120.3L535,117.5L537.5,120L540.5,122L542.5,125L547.6,125.9L552.5,127.5L553.6,122.5L555,117.5L555,113.6L554.3,109.9L552.4,106.4L552.5,102.5L555,98.7L557.5,95L555.5,90.9L552.5,87.5L555.8,86L558.6,83.5L561.7,81.6L565,80L567.7,76.4L570,72.5"/>
<path d="M527.5,122.5L526.1,126.8L524.3,130.9L522.5,135L525.3,137.2L527.3,140.2L530,142.5L533.8,144.4L536.5,147.7L540,150L544.1,148.9L548.3,147.9L552.5,147.5L551.1,152.5L550,157.5L553.1,160.3L556.8,162.3L560,165L559.3,168.7L558.3,172.4L557.8,176.2L557.5,180L555,183.3L552.8,186.9L550,190"/>
<path d="M480,155L481.9,158.5L483,162.3L483.4,166.4L485,170L489.1,172L492.5,175L490.7,179.9L490,185L487.8,187.8L485,190"/>
<path d="M527.5,62.5L531.9,63.1L535.9,64.7L540,66.2L543.8,63.5L548.2,61.8L552.5,60L556.6,61.2L560.8,62L565,62.5L570,60"/>
<path d="M545,5L546.3,8.5L548.1,11.8L550,15L553.8,17.4L557.5,20L561,17.1L565,15L570,18.8"/>
<path d="M380,145L383,147L384.6,150.4L387.5,152.5L386.1,157.5L385,162.5L387.8,164.7L389.7,167.8L392.5,170L391.1,175L390,180L393.5,182.9L397.5,185"/>
<path d="M402.5,62.5L406.3,63L410.1,63.1L413.7,64.5L417.5,65L421.9,66.1L425.8,68.3L430,70L435,72.5"/>
<path d="M570,18.8L573.8,20.5L577.5,22.5L578.8,26L580.8,29.2L582.5,32.5L578.8,37.5L583.1,39.4L587.5,41.2L589.6,45.3L592.9,48.5L595,52.5L599.9,53.9L605,53.8L607.5,60L608.8,56.7L609.4,53.1L611.2,50L613.5,46.4L615,42.5L618.2,40.8L621.9,40.7L625,38.8L628.8,38.4L632.4,37L636.4,37.6L640,36.2L642.7,38.5L645,41.2L649.1,42.4L653.4,41.3L657.5,42.5L660,47.5L664.3,46.6L668.8,46.2L670,52.5L668.1,56.6L667,61L665,65L667.7,68.6L670,72.5L667.9,75.4L665,77.5L665.5,82.5L666.2,87.5L664.5,91.5L664,95.9L662.5,100L661,103.7L660,107.5L662.5,112.5L659,112.9L655.5,113.2L651.9,113.2L648.5,114.4L645,115L641,115.5L636.9,115.7L632.8,115.6L628.8,116.2L625.6,118.6L623.2,121.6L621.2,125L624.6,127.3L627.5,130L631.6,132L635,135L637,138L640.3,139.7L642.5,142.5L643.5,147.6L645,152.5L643.8,156.1L641.7,159.2L640,162.5L635.8,163L631.5,163.5L627.5,165L623.5,165.2L619.5,165.1L615.5,164.5L611.5,165L607.5,165L604.6,162.9L602.5,160L598.6,157.7L595,155L592.2,152.8L590.3,149.7L587.7,147.3L585,145L585.6,139.8L587.5,135L585.8,131.7L584.6,128.1L582.5,125L583.7,120.1L583.8,115L579.2,114.2L574.6,114L570,113.8"/>
<path d="M605,2.5L609.3,2.6L613.4,3.9L617.5,5L618.8,11.2L615.6,13L612.6,15L610,17.5L607.5,23.8L603,23.7L598.8,25L603.6,27L608.8,27.5L608.6,31.3L607.5,35L605.3,39L602.5,42.5L605.4,45L608.2,47.7L611.2,50"/>
<path d="M570,60L573.8,59.1L577.6,58.4L581.4,57.7L585,56.2L588.9,55.3L592.9,54.7L597,55L601,54L605,53.8"/>
<path d="M570,70L572,74L572.9,78.5L575,82.5L576.5,86.5L576.2,90.9L577.5,95L579.5,98.2L580.7,101.7L582.5,105L580,110L583.8,115"/>
<path d="M628.8,116.2L629.3,120.6L630,125L625.6,125.8L621.2,125"/>
<path d="M670,52.5L673.7,51.1L677.5,50L676.5,45.8L675.3,41.6L673.8,37.5L677.5,32.5"/>
<path d="M666.2,87.5L669.6,90.1L672.9,92.8L677,94.4L680,97.5L684.2,99.3L688.8,100L688.5,95.8L688.2,91.6L687.5,87.5L690.4,85.4L692.3,82.3L695,80L698.6,81.7L702.5,82.5L707.6,81.5L712.5,80L714.9,83.5L716,87.6L718,91.3L720,95L722.1,97.9L724.6,100.4L727.3,102.7L730,105L735,103.9L740,102.5L744.8,104.4L750,105L754,106.4L757.5,108.8"/>
<path d="M712.5,80L714.9,77.4L717.5,75L721.8,74.9L725.9,73.7L730,72.5L730.6,68.5L732.6,65L733.2,61.1L735,57.5L737.9,54.4L742,52.9L745,50L746.7,46.7L747,43L748.2,39.6L748.4,35.8L750,32.5"/>
<path d="M692.5,2.5L691.8,6.4L690,10L694,12.1L697.5,15L696.5,18.7L694.3,21.7L692.5,25L695,31.2"/>
<path d="M680,92.5L685,96.2L682.5,98.8L680,96.2L680,92.5"/>
<path d="M645,166.2L648.1,168.9L650,172.5L649.1,176L650.1,179.5L649.6,183L649.7,186.5L648.8,190"/>
<path d="M650,172.5L654.1,172.1L658.1,170.7L662.1,169.8L666,168.5L670,167.5L672,170.5L673.6,173.8L676,176.7L677.5,180L678.1,185.2L680,190"/>
<path d="M677.5,180L681.5,179.4L684.9,177.1L688.6,175.9L692.5,175L695.9,177.2L698.9,179.8L702.1,182.2L705,185L707.5,190"/>
<path d="M607.5,165L606.9,168.8L606.2,172.7L604,176.1L603.8,180L603.4,185L602.5,190"/>
<path d="M15,540L15.5,544.2L16.9,548.3L17.5,552.5L17.6,557.6L16.2,562.5"/>
<path d="M45,557.5L44.6,553.3L42.9,549.3L42.5,545L46.2,540"/>
<path d="M47.5,575L52.4,573.4L57.5,572.5L60.5,574.5L62.7,577.3L65,580L62.1,583.5L60,587.5L56.1,586.7L52.5,585L51.2,581.5L49,578.4L47.5,575"/>
<path d="M65,580L67.8,577.8L70,575L74.9,573.3L80,572.5"/>
<path d="M10,578.8L12.7,582.4L15.1,586.2L17.5,590L22.5,588.6L27.5,587.5L30,583.8L32.5,580L30,576.2L27.5,572.5L23.8,572.2L20,572.5"/>
<path d="M17.5,590L16.9,594L15,597.5L11.1,600L7,602.3L2.5,603.8L6.2,606.9L10,610L15,613.8"/>
<path d="M27.5,587.5L30.6,590.3L34.4,592.2L37.5,595L42.6,594.1L47.5,592.5L51.4,594.8L55.7,596.1L60,597.5L62.5,602.5L59.3,605.2L55.2,606.5L51.8,608.9L48.8,612L45,613.8"/>
<path d="M37.5,595L35.9,598.3L33.7,601.4L32.5,605L34.9,609.4L37.5,613.8"/>
<path d="M62.5,602.5L66.1,603.9L69.3,606L72.9,607.3L76.8,607.9L80,610L83.4,608.6L86.5,606.6L89.3,604.3L92.5,602.5L94.1,598.9L94.7,594.9L96.2,591.2"/>
<path d="M110,540L111.3,543.5L113.5,546.4L116,549.1L117.5,552.5L116.2,556.8L114.2,560.9L112.5,565L114.5,568L117.3,570.2L120,572.5L125,571.2L130,570L132.7,566.2L133.7,561.4L136.2,557.5L135.5,554L134.3,550.6L132.5,547.5L130.5,544.5L128,542L125,540"/>
<path d="M147.5,540L151.6,541.7L156,542.9L160,545L158.3,549.1L156.2,553.2L155,557.5L152.1,561L150,565L150.7,570.1L152.5,575L150.5,578.7L148.8,582.5"/>
<path d="M148.8,582.5L146.4,585.7L144.9,589.3L142.5,592.5L143.8,596L145.7,599.1L148.1,601.9L150,605L149.7,609.4L150,613.8"/>
<path d="M148.8,582.5L144.5,583.2L140.4,584.3L136.4,585.8L132.5,587.5L128.4,586.1L124.3,585.1L120,585L116,587.2L112.5,590L110.2,593.5L109.6,597.7L107.5,601.2L103.7,601.4L100,602.5"/>
<path d="M172.5,540L173.5,543.7L174.2,547.4L175,551.1L175,555L173.8,558.7L174.1,562.6L173.5,566.3L172.5,570L171.8,573.8L172.6,577.5L172.5,581.2L173.1,585L172.9,588.8L172.5,592.5L172.1,596.3L171.9,600.1L171,603.8L170,607.5"/>
<path d="M160,545L162.8,547.2L165.9,549.2L169,551L171.7,553.4L175,555"/>
<path d="M185,585L187.3,581.1L190,577.5"/>
<path d="M195,547.5L198.5,549.8L201.7,552.5L205,555L207.5,557.7L209.3,560.9L211.3,564L212.5,567.5L210.7,571.1L210,575L213,577L215.5,579.5L217.5,582.5L222.4,584.3L227.5,585L231,582.1L235,580L236.7,583.2L237.1,586.8L238.8,590L237.4,593.5L235,596.5L233.8,600L233.8,604.6L234.2,609.2L235,613.8"/>
<path d="M227.5,565L230.5,567.1L233.8,568.7L236.7,570.9L240,572.5L242,569.5L245.2,567.7L247.8,565.3L250,562.5L252.7,564.8L255.4,567.1L257.3,570.2L260,572.5L260.4,576.8L261.3,580.9L262.5,585L265.7,587L269.3,588.1L272.5,590L273.1,594.2L273,598.3L272.5,602.5"/>
<path d="M230,540L232.4,542.6L234.5,545.5L237,548L240,550L244.9,551.7L250,552.5L250.6,548.5L252.5,545L256,542.1L260,540"/>
<path d="M260,540L262.1,543.3L265.5,545.6L267.2,549.2L270.5,551.6L272.5,555L276.9,556.1L280.6,558.9L285,560L287.1,556.3L290,553.4L292.5,550L292,545L291.2,540"/>
<path d="M285,560L289.1,562L292.5,565L292,569.2L293.1,573.3L292.5,577.5L296.2,576.9L300,577.5"/>
<path d="M272.5,590L275.5,586.6L277.5,582.5L281,580.6L285.2,580.7L288.7,578.5L292.5,577.5"/>
<path d="M345,547.5L348.2,549.4L351.5,551.2L355,552.5L357.1,556.1L358.5,560.1L360.3,563.9L362.5,567.5L362.3,571.3L361,575L360.6,578.7L360,582.5L358.6,585.9L356.6,588.9L354.7,592.1L352.5,595L348.4,596.1L344.3,597.2L340,597.5L339.3,592.4L337.5,587.5L338.7,583.1L341.5,579.4L342.5,575L340.1,572.4L337.5,570L335,567.5"/>
<path d="M362.5,567.5L367.4,566L372.5,565L376.3,567.5L380,570"/>
<path d="M352.5,595L354.4,599.2L357.5,602.5"/>
<path d="M195,562.5L197.8,565L201,566.6L204.2,568.4L207.5,570L212.5,567.5"/>
<path d="M442.5,550L445.5,553L447.5,556.6L450,560L454.2,561.6L458.1,563.8L462.5,565L464.5,568L467.3,570.2L470,572.5L468.6,576.1L468.4,579.9L467.6,583.7L467.5,587.5L464.5,589.5L462.1,592.1L460,595L457.5,597.5L454.8,599.8L452.7,602.7L450,605"/>
<path d="M470,572.5L473.7,570.5L476.7,567.5L480,565L481.6,561.4L482.5,557.5"/>
<path d="M467.5,587.5L471.9,586.2L476.2,585L477.3,581.2L480.3,578.3L482,574.8L484,571.4L485,567.5L489.2,566.4L493.2,564.4L497.5,563.8L497.6,559.4L498.7,555.3L500,551.2"/>
<path d="M497.5,563.8L494.5,567.9L492.5,572.5L494.3,575.6L496.3,578.6L498.5,581.5L500.6,584.4L502.7,587.3L505,590L507.7,592.3L509.6,595.4L512.3,597.7L515,600L518.7,598.7L522.3,596.9L526.3,596.4L530,595L530.6,589.8L532.5,585L529.7,582.7L527.1,580.3L523.8,578.7L521.3,576L518.1,574.4L515,572.5L511.4,570.3L508.1,567.8L505,565"/>
<path d="M385,545L386.6,548.6L387,552.7L389.1,556.1L390,560L389,564.1L388.1,568.3L387.5,572.5L390.5,574.6L393.8,576.2L396.6,578.6L400,580L403,583.4L405,587.5L401.3,586.7L397.5,586.9L393.8,586.1L390,586.2L385,587.1L380,587.5"/>
<path d="M405,587.5L406,591.6L406,596L407.5,600"/>
<path d="M540,540L540.9,544.1L541.9,548.3L542.5,552.5L544.9,555.1L547.5,557.5L550,560L546.8,562.6L543.3,565L540,567.5L542.8,570.6L544.5,574.6L547.5,577.5L551.6,576.5L556,576.6L560,575L562.5,571.7L565.3,568.6L567.5,565L570,567.5"/>
<path d="M530,595L530.8,600.1L532.5,605"/>
<path d="M575,540L577.5,542.5L580.1,544.9L582.1,547.9L585,550L586,555.1L587.5,560L592.3,562L597.5,562.5L598.3,558.6L600,555L605.1,554.3L610,552.5L612.3,555.5L613.6,559L615,562.5L613.6,566.8L611.6,570.8L610,575L612.4,578L613.7,581.5L615,585L614,588.7L611.8,591.7L610,595L612.6,597.4L615,600L618,602L620,605"/>
<path d="M587.5,560L586,564.2L584.5,568.5L582.5,572.5L584.8,575.2L587.8,577.2L590,580L588,583.2L586.4,586.5L585,590L587.7,592.3L590,595L592.4,597.6L595,600L597.9,602.1L600,605"/>
<path d="M615,562.5L619,561L623.4,561.1L627.5,560L629.6,564L632.5,567.5L631.5,571.2L628.5,573.8L627.5,577.5L631.2,580.1L635,582.5L635.2,586.3L633.9,590L633.7,593.7L633.5,597.5L633.2,601.3L632.5,605"/>
<path d="M630,540L627.5,542.5L625.1,545.1L622.5,547.5L624.4,551.6L626.5,555.6L627.5,560"/>
<path d="M670,540L671.5,544.9L672.5,550L671.4,553.6L669.1,556.6L667.5,560L668.7,565L670,570L669.1,574.5L666.2,578.1L665,582.5L665.3,586.8L666.7,590.8L667.5,595L666.1,598.3L664.5,601.5L663.8,605"/>
<path d="M655,587.5L660,590L661,593.8L662.5,597.5L656.2,600"/>
<path d="M680,582.5L684.2,584.4L687.5,587.5L691.7,587.2L695.8,586.6L700,586.2L703.6,585.6L706.8,584L710,582.5L712.9,579.7L716.2,577.5"/>
<path d="M680,582.5L681.7,587.4L682.5,592.5L687.7,591.9L692.5,590L696.6,591.8L700.8,593.3L705,595L707.7,592.7L710,590"/>
<path d="M680,592.5L682.6,596.2L685,600L682.5,605"/>
<path d="M331.2,169.4L334.1,171.5L336.7,174.1L339.5,176.3L343.1,175.3L346.8,174.3L350.5,173.6L351.7,169.3L353.3,165.3L357.3,163.5L361.6,162.5L363.7,165.9L364.2,169.9L365.7,173.6L363,177.4L361.6,181.8L364,184.9L367.5,187L369.9,190.1L374.1,191.2L378.2,192.9L380.9,197.1L383.7,201.2"/>
<path d="M322.9,203.9L326.8,207L331.2,209.5L332.6,213L334.2,216.3L336.7,219.1L331.2,223.3L332,227.6L333.9,231.6L331.3,235.8L328.4,239.9L329.2,243.6L329.8,247.3L331.2,250.9L327.6,252L324.5,254.2L320.9,255.2L317.4,256.4L315.6,260.5L314.6,264.7L317.9,266.9L320.1,270.3L322.9,273L327.2,274L331.2,275.8"/>
<path d="M336.7,219.1L340.1,220.4L343.5,221.5L347.1,222.3L350.5,223.3L353.3,227.5L356.1,231.6L359.7,230.8L363.5,231.3L367.1,230.2L369.5,233.9L372.6,237.1L377.2,234.9L380.9,231.6L380.8,227.3L379.5,223.3L384.4,222.1L389.2,220.5L393.7,222.7L397.5,226.1L400,229.1L402.9,231.7L405.8,234.3"/>
<path d="M356.1,249.5L359.8,249.8L363.4,249L367.1,248.6L370.8,248.7L374.5,248.1L378.2,248.2L382.2,249.9L386.2,251.7L390.7,252L394.7,253.7L395.4,257.4L396.2,261.2L397.5,264.7L395.3,268L391.5,269.8L389.2,273L385.6,275L382,277.1L378.2,278.6L375.8,282L374.4,285.9L372.6,289.6L368.9,289L365.3,287.6L361.6,286.8L358.9,283.1L355.7,279.7L353.3,275.8L350.4,273.1L347.8,270.2L345,267.5L347,263.3L349.1,259.2L350.9,255.6L353.2,252.3L356.1,249.5"/>
<path d="M372.6,289.6L371.2,292.9L371.2,296.5L370.3,299.9L369.9,303.4L367.2,307.6L364.3,311.7L366.2,315.7L367.1,320"/>
<path d="M397.5,264.7L400.6,267.2L403.1,270.2L405.8,273L406.7,276.4L407.8,279.8L407.8,283.4L408.6,286.8L407.4,290.9L404.7,294.1L403,297.9L405.6,301.7L409.2,304.8L411.3,308.9L413.1,312.7L415,316.3L416.8,320"/>
<path d="M289.7,195.7L291.2,199.5L293.4,203.1L295.3,206.7L294.9,210.2L293.4,213.5L292.7,217L292.5,220.5L295,224.4L297.6,228.2L300.8,231.6L304.3,233L308.2,233.1L311.8,234.3L315.8,233.1L319.4,231L322.9,228.8L322.5,225.3L322.3,221.7L322.4,218.2L323.6,214.6L322.4,211.1L323.5,207.5L322.9,203.9"/>
<path d="M278.7,239.9L282.7,241.1L285.8,244.1L289.7,245.4L292.2,249.8L295.3,253.7L292.4,257.3L289.1,260.6L287,264.7L283.1,267.9L278.7,270.3L274.9,269.7L271.3,268.4L267.6,267.5L266.9,271.9L264.9,275.8"/>
<path d="M295.3,253.7L298.5,255.6L302.3,256.2L305.9,257.2L309.1,259.2L313.3,258L317.4,256.4"/>
<path d="M389.2,220.5L391,216.8L392.7,213.1L394.7,209.5L399,206.9L403,203.9L403.8,200.2L405,196.6L405.8,192.9L409.6,191.3L413.4,189.7L416.8,187.4"/>
<path d="M405.8,234.3L409.1,236.9L413.3,237.8L416.8,239.9L418,243.4L419.6,246.8L421.2,250.2L422.4,253.7L421.2,257.3L420.9,261.1L419.6,264.7L422.2,267.6L424.6,270.8L427.4,273.6L430.7,275.8"/>
<path d="M240,215L243.5,212.7L247.5,211.5L251.1,209.5L254.9,210.9L258.3,213.5L262.1,215L266.3,213.7L270.4,212.2"/>
<path d="M245.5,264.7L249.6,267L253,270.1L256.6,273L261,273.7L264.9,275.8L267.1,279.3L268.3,283.3L270.4,286.8L274.3,288.3L277.6,290.9L281.4,292.4L282,296.1L284,299.6L284.2,303.4L287.6,305.8L291.6,307.1L295.3,308.9L298.6,312.2L300.9,316.2L303.6,320"/>
</g>
<g fill="none" stroke="#33260a" stroke-opacity="0.66" stroke-width="2" stroke-linejoin="round">
<path d="M190,270L185,273.8L179.9,274.5L175,276.2L171.8,274.3L168,273.6L165,271.2L161.3,271.8L157.5,271.9L153.7,272.1L150,272.5L145.3,272.1L140.9,274L136.2,273.8L132.3,276.6L128.8,280L132.6,282.3L136.2,285L136.3,288.8L136.8,292.5L136,296.2L136.2,300L131.9,301.1L127.5,301.2L126.9,306.3L126.2,311.2L122.8,313.3L118.8,313.8L118.3,317.6L119.6,321.2L120,325L118.8,328.4L117.1,331.5L116.2,335L119.5,337.4L122.5,340L120.6,344.8L120,350L123.6,350.4L126.5,353.1L130,353.8"/>
<path d="M98.8,386.2L97.6,390.5L97.5,395L99.9,398L100.4,401.9L102.5,405L101.2,409.9L101.2,415L105.5,415.5L109.2,418.2L113.3,419.2L117.5,420L113.8,422.6L110,425L106,425.2L102,424.7L98,425.2L94,424.9L90,425L91.9,428L94.8,430.4L96.2,433.8L95.8,437.5L95.9,441.2L96.2,445L100.2,444.5L103.9,442.9L107.6,441.5L111.4,440.4L115,438.8L116.8,442.8L117.5,447.1L118.8,451.2L115.2,452.4L111.9,454.1L109.4,457.3L105.4,457.7L102.5,460L102.7,464.2L103.5,468.3L103.8,472.5L97.5,475L99.4,478.5L100,482.5L104.6,481.9L108.8,480L110.4,484L111.1,488.4L112.5,492.5L111.5,496.2L109.1,499.1L107.5,502.5L104.2,504.5L100.8,506.6L97.5,508.7L93.8,510L95.4,514L94.8,518.5L96.2,522.5L92.7,524.2L89.8,527L85.9,528L82.5,530L83.7,534.3L86.3,538.1L87.5,542.5L86.7,546.7L86.9,550.8L87.5,555L83.7,557.4L80,560L79.8,565.1L81.2,570"/>
<path d="M2.5,380L2.9,384.2L3.5,388.3L3.8,392.5L6.7,396L8.8,400L9.8,404.1L9.6,408.3L10,412.5L6.2,412.9L2.5,413.8"/>
<path d="M18.8,566.2L22.2,564.7L25.5,562.9L29.2,561.9L32.5,560L36.2,559.3L40,558.7L43.6,557.3L47.5,557.5L50.8,559.1L53.8,561.2L58.1,561.2L62.5,561.2L66,560.7L69.4,559.5L72.9,559.4L76.5,559L80,558.8"/>
<path d="M333.8,401.2L335.1,405.6L336.2,410L337.4,414.1L340,417.5L339.8,421.2L339.7,425L340,428.8L340,432.5L337.4,435L333.8,436.2L331.2,438.8L329.1,442.6L328.6,447.1L326.3,450.8L325,455L322.6,458.6L320.5,462.3L318.8,466.2L317.4,470.7L316.5,475.3L316.2,480L320.1,481.9L323.7,484.2L327.5,486.2L326.8,490.3L327.5,494.4L327.4,498.5L326.2,502.5L323.9,505.5L320.2,507L318,510.2L315,512.5L311.7,514.7L308,516.2L309.3,520.7L310,525.3L310,530L311.9,533.1L315.6,534.4L316.9,538.1L320,540L319.3,543.7L319.2,547.6L319,551.4L317.5,555L317.4,558.9L318.9,562.5L318.6,566.4L320,570"/>
<path d="M412.5,565L416.2,563.7L420,562.5L422.3,559.5L423.4,555.9L425,552.5L430,550L433.7,551L437.5,550.8L441.2,551.8L445,551.2L448.2,548.9L451.8,547.3L455,545L460,544.4L465,543.8L468.7,544.8L472.6,545.3L476.1,547.1L480,547.5L480.7,552.6L482.5,557.5L486.1,556.8L489.5,555.6L492.8,553.7L496.6,554L500,552.5L503.7,551.6L507.4,550.5L511.2,550.1L515,550L516.7,546.8L518.4,543.6L521,541L523.6,538.4L525,535L528.3,536.8L531.8,538.2L535,540L538.4,541.4L541.4,543.9L545,545L548.5,543.7L551.7,541.7L555,540L558.5,541.3L561.3,544L565,545L570,542.5"/>
<path d="M415,570L412.5,565"/>
<path d="M425,552.5L424.8,548.2L423.9,544.1L422.5,540L418.7,541.1L415,542.5L416.9,537.7L417.5,532.5"/>
<path d="M647.5,380L648.1,384.2L648,388.5L649.5,392.5L650.4,396.2L650.3,400.1L651.2,403.8L653.8,408L657.5,411.2L661,413.6L663.1,417.3L666.2,420L667.6,424L670,427.5L669.6,431.3L670.5,435L671.6,438.7L671.2,442.5"/>
<path d="M668.8,426.2L664.8,425.4L661.2,423.4L657.5,422L654.1,424.9L650,426.5L646.2,428.8L644.3,432.3L643.1,436L642.5,440L638.7,440.6L635,441.2L630.9,443.3L627.2,445.8L623.8,448.8L620.4,445.8L617.4,442.6L615,438.8L612,441.4L608.2,443.1L605,445.5L601.4,442.5L597.5,440L598.1,444.2L597.1,448.3L597.5,452.5L593.3,454L589.2,455.9L585,457.5"/>
<path d="M570,552.5L571.7,549.4L573.4,546.3L573.9,542.7L575,539.3L577,536.4L578,533L580,530L583.7,529.3L587.6,529.2L591.2,527.6L595,527.5L596.4,523.5L596.7,519.2L597.5,515L600.8,512.5L604.7,510.7L607.5,507.5L610.9,506L613.9,503.6L617.5,502.5L617.1,498.8L617.4,495L616.3,491.3L616.2,487.5L619.9,486.1L623.8,486.2L627.5,485.5"/>
<path d="M570,251.2L573.7,249.8L577.5,248.8L579.4,245.3L582.1,242.5L585,240L587.6,243.3L589.6,247L592.5,250L593.2,253.7L593.7,257.5L594.9,261.2L595,265L597.5,268.3L600.3,271.4L602.5,275L606.6,278L611.2,280L610,286.2L616.2,285L618.9,288.2L621.1,291.8L623.8,295L627.2,292.8L631.1,291.4L635,290.2L638.8,288.8L645,290L647.4,292.6L650,295L652.5,297.5L657.7,297.9L662.5,300L665,306.2L669.4,304.7L673.6,302.6L677.5,300L678.2,295.6L678.8,291.2L683,293.4L687.5,295L691.2,296.5L695.2,297.4L698.6,299.7L702.8,300.2L706,303L710,303.8L711.4,307.1L711.2,310.8L712,314.3L713.8,317.5L717.5,320L721.1,318.4L725.1,318.5L728.6,316.5L732.5,316.2L734.2,311.8L736.2,307.5L738.4,303.5L741.2,300L740.4,296.3L740.6,292.5L740.9,288.7L740,285L739.9,280.8L739.2,276.7L740,272.5L742,268.8L744.5,265.4L747.5,262.5L749.1,258.7L751.2,255.2L753.3,251.7L755.9,248.5L758,245"/>
<path d="M717.5,320L717,324.6L716.5,329.3L715,333.8L710,334.3L705,333.8L700.7,334.2L696.6,333.4L692.5,332.5L689.2,334L686.5,336.5L683.8,339L680.8,341L677.5,342.5L674.9,339.3L672.4,336.1L670.6,332.3L667.5,329.5L665,326.2L660.9,327.5L657.5,330L654.9,332.7L653.8,336.3L652.1,339.5L650,342.5L647.4,345.5L643.9,347.3L640.6,349.5L637.9,352.4L635,355L638,357.9L639.8,361.8L642.5,365L643.4,368.8L644.9,372.4L644.9,376.3L646.2,380"/>
<path d="M425,195L426,198.7L427.9,201.9L430,205L433.2,207.4L436.5,209.5L440,211.2L443.9,210.9L447.6,209.7L451.3,208.6L455,207.5L458.8,206.6L462.5,207.5L466,208.1L469.5,206.5L473,206.7L476.5,206.7L480,207L484.2,207L488.3,205.7L492.5,206.2L496.7,206.6L500.9,206.8L505,207.5L507.1,203.9L509.7,200.6L512.5,197.5L516.3,197.3L520,196.2L523.7,198.3L526.2,201.9L530,203.8L531,199.9L532.5,196.2L536.6,195.1L540,192.5L540.8,196.8L543,200.7L543.8,205L545.1,209.3L547.3,213.3L548.8,217.5L550.1,220.8L550.5,224.4L552.5,227.5L547.5,228.8L542.5,230L543,234.2L544.9,238.2L545,242.5L548.6,244.1L552.4,245.3L556.4,245.9L560,247.5L563.3,248.9L566.4,250.6L570,251.2"/>
<path d="M190,270L194.4,271.3L198.8,272.5L201.6,269.6L205,267.5L209,264.3L213.8,262.5L211.1,258.8L208.8,255L212.4,253.2L215,250L219.4,249.6L223.8,248.8L227.2,247.4L230.6,246.3L233.9,244.6L237.5,243.8L236.8,247.8L236.7,251.9L237.3,256L236.2,260L242.5,260"/>
<path d="M2.5,577.5L6.4,577.4L10,578.8L13.1,576.4L17.1,575.2L20,572.5L18.7,568.8L17.5,565L22.6,564.1L27.5,562.5L31.1,562L34.5,560.3L38,559.4L41.6,558.8L45,557.5L48.9,559.1L52.5,561.2L56.6,562.5L60.8,563.1L65,563.8L68.4,561.1L72.8,560.7L75.9,557.5L80,556.2L83.7,554.9L87.5,553.8L87.1,549.2L86.5,544.6L86.2,540"/>
<path d="M80,556.2L80.9,560.3L81.4,564.3L82.1,568.4L82.5,572.5L84.1,576.7L85.6,580.9L87.5,585L90.3,587.3L93.5,588.9L96.2,591.2L97.5,595L98.8,598.7L100,602.5L101.4,606.6L104.2,610L106.2,613.8"/>
<path d="M150,613.8L153.7,612.7L157.6,611.9L161.1,610.1L164.8,608.9L168.7,608.2L172.5,607.5L172.8,603.7L174.2,600.1L175.2,596.4L175,592.5L178.6,591L182.4,590.9L186.2,590.6L190,590"/>
<path d="M112.5,613.8L116.1,610.8L120.3,608.6L123.8,605.5L128.3,606.5L132.9,607.1L137.5,607.5L137.5,613.8"/>
<path d="M320,540L322.1,544.8L322.5,550L321.1,554L318.3,557.3L317,561.3L315,565L311.4,566.8L308.4,569.3L306.3,572.9L302.7,574.6L300,577.5L299.1,582.6L297.5,587.5L294.5,589.6L291.4,591.6L288.4,593.5L285.4,595.6L281.7,596.6L278.8,598.9L275.9,601.1L272.5,602.5L270.1,606.3L267,609.7L265,613.8"/>
<path d="M297.5,587.5L300,590.3L301.3,593.7L303.3,596.8L305,600L309.1,602L312.5,605L314.6,608.2L317.4,611L320,613.8"/>
<path d="M190,590L193.8,588.8L197.5,587.5L199.7,590.6L201.2,594L202.5,597.5L206.1,597.6L209.5,598.3L213,598.9L216.5,599.3L220,600L223,602L224.6,605.4L227.5,607.5L230.9,610.3L233.8,613.8"/>
<path d="M235,600L238,602L240,605L237.4,609.1L236.2,613.8"/>
<path d="M315,565L318.3,567.5L321.7,569.9L325,572.5L328.7,571.6L331.6,569L335,567.5"/>
<path d="M422.5,540L423.2,543.9L425,547.5L426.4,551.2L427.5,555L426.2,561.2L422.4,561.5L418.6,562.3L415,563.8L418.1,566.4L420,570L419.4,573.7L417.9,577.4L417.7,581.2L417.5,585L421,587.8L425,590L428.5,590.3L431.9,591.9L435.4,591.9L438.9,592.7L442.5,592.5L441.1,596.6L441.5,601L440,605"/>
<path d="M427.5,547.5L431.8,547.8L436,548.4L440,550L443.2,548.1L446.4,546.2L450,545L454,547L458.4,548.1L462.5,550L466,549.9L469.4,551.2L473,550.1L476.5,550.6L480,551.2L482.5,557.5L485.7,555.5L489.3,554.3L493,553.9L496.3,552L500,551.2L503.8,549.5L507.3,547.2L511.4,545.9L515,543.8L518.1,541.8L521.7,541.3L525,540"/>
</g>
<g fill="none" stroke="#a6aec0" stroke-width="1">
<path d="M20,-8C20.2,-6.3 20.5,-1.7 21,2C21.5,5.7 22.7,11.2 23,14C23.3,16.8 23.8,16 23,19C22.2,22 19.7,28.2 18,32C16.3,35.8 14.7,39 13,42C11.3,45 9.8,47.7 8,50C6.2,52.3 4.7,54 2,56C-0.7,58 -6.3,61 -8,62"/>
<path d="M169,-10C168.7,-8 168.5,-2.2 167,2C165.5,6.2 162.2,10 160,15C157.8,20 155.3,26.2 154,32C152.7,37.8 151.7,43.7 152,50C152.3,56.3 154.7,64.2 156,70C157.3,75.8 158.7,79.2 160,85C161.3,90.8 162.8,98.3 164,105C165.2,111.7 166.2,118.3 167,125C167.8,131.7 168.6,139.8 169,145C169.4,150.2 169.8,152.2 169.6,156C169.4,159.8 169.3,164.3 168,168C166.7,171.7 164.2,175.3 162,178C159.8,180.7 157.8,182.8 155,184C152.2,185.2 149.2,185.3 145,185.5C140.8,185.7 135,184.8 130,185C125,185.2 118.7,186 115,187C111.3,188 110.5,189.3 108,191C105.5,192.7 102.3,193.8 100,197C97.7,200.2 95.8,205.8 94,210C92.2,214.2 90.5,217.8 89,222C87.5,226.2 87.3,230.8 85,235C82.7,239.2 78.3,243.3 75,247C71.7,250.7 68.2,253.2 65,257C61.8,260.8 58.2,265.3 56,270C53.8,274.7 53.5,280.5 52,285C50.5,289.5 49.5,292.8 47,297C44.5,301.2 40,305.3 37,310C34,314.7 30.8,320 29,325C27.2,330 26.3,335 26,340C25.7,345 26.2,350 27,355C27.8,360 29.7,365.8 31,370C32.3,374.2 33.5,376.3 35,380C36.5,383.7 38,387 40,392C42,397 44.5,404.2 47,410C49.5,415.8 51.7,421.7 55,427C58.3,432.3 62.5,437 67,442C71.5,447 77,452.3 82,457C87,461.7 92.3,465.8 97,470C101.7,474.2 106.2,477.8 110,482C113.8,486.2 116.7,491.2 120,495C123.3,498.8 125.8,501.3 130,505C134.2,508.7 140,512.8 145,517C150,521.2 155.5,526 160,530C164.5,534 168.7,537.3 172,541C175.3,544.7 177.7,548.3 180,552C182.3,555.7 184.3,559.8 186,563C187.7,566.2 187.7,567.8 190,571C192.3,574.2 196.7,578.8 200,582C203.3,585.2 206.7,587.2 210,590C213.3,592.8 217.2,596.3 220,599C222.8,601.7 224.7,603.5 227,606C229.3,608.5 231.8,610.8 234,614C236.2,617.2 239,623.2 240,625"/>
<path d="M629,246C632,246 634.5,247.3 637,250C639.5,252.7 642.8,257.5 644,262C645.2,266.5 644.5,272 644,277C643.5,282 642.5,287.3 641,292C639.5,296.7 637.3,300.8 635,305C632.7,309.2 629.3,312.2 627,317C624.7,321.8 623.2,332.7 621,334C618.8,335.3 615.8,329 614,325C612.2,321 610.8,315.5 610,310C609.2,304.5 609.5,297.8 609,292C608.5,286.2 606.7,280.3 607,275C607.3,269.7 609,264.2 611,260C613,255.8 616,252.3 619,250C622,247.7 626,246 629,246Z"/>
<path d="M775,290C772.2,290.8 761.8,292.2 758,295C754.2,297.8 754.2,302.8 752,307C749.8,311.2 747.8,315.3 745,320C742.2,324.7 738.3,330.7 735,335C731.7,339.3 728.8,343.5 725,346C721.2,348.5 716.2,349.2 712,350C707.8,350.8 703.7,350 700,351C696.3,352 693,353.7 690,356C687,358.3 683.8,361.8 682,365C680.2,368.2 679.8,372.5 679,375C678.2,377.5 678.5,377.2 677,380C675.5,382.8 671.8,387.5 670,392C668.2,396.5 666.5,402 666,407C665.5,412 665.8,417.7 667,422C668.2,426.3 671.2,430.3 673,433C674.8,435.7 675.3,438 678,438C680.7,438 685.3,435.7 689,433C692.7,430.3 695.7,424 700,422C704.3,420 711.2,419.8 715,421C718.8,422.2 721.3,425.5 723,429C724.7,432.5 725.3,436.8 725,442C724.7,447.2 722.7,454.5 721,460C719.3,465.5 717.3,470 715,475C712.7,480 709.2,485.5 707,490C704.8,494.5 702.5,498.8 702,502C701.5,505.2 703.2,506.5 704,509C704.8,511.5 705,514.5 707,517C709,519.5 712.7,523.3 716,524C719.3,524.7 723.5,521.7 727,521C730.5,520.3 733.8,519.3 737,520C740.2,520.7 743.5,522.8 746,525C748.5,527.2 751,529.3 752,533C753,536.7 752.3,542.5 752,547C751.7,551.5 750.2,556 750,560C749.8,564 750.3,567.7 751,571C751.7,574.3 753,577.5 754,580C755,582.5 756.3,583.8 757,586C757.7,588.2 758.5,590.5 758,593C757.5,595.5 755.7,599.2 754,601C752.3,602.8 750.2,604 748,604C745.8,604 743.3,602.5 741,601C738.7,599.5 736.8,597.2 734,595C731.2,592.8 727.2,589.2 724,588C720.8,586.8 717.7,587.2 715,588C712.3,588.8 709.8,590.8 708,593C706.2,595.2 705,598.8 704,601C703,603.2 702.7,601.2 702,606C701.3,610.8 700.3,626 700,630"/>
<path d="M218,-10C217.7,-8.3 217.5,-5 216,0C214.5,5 211.7,13 209,20C206.3,27 203.1,35 200,42C196.9,49 192.9,57 190.5,62C188.1,67 186.5,67.8 185.5,72C184.5,76.2 184.4,82.3 184.5,87C184.6,91.7 185.3,95.3 186,100C186.7,104.7 187.5,109.2 188.5,115C189.5,120.8 190.9,129.3 192,135C193.1,140.7 194.2,144.7 195,149C195.8,153.3 196,156.2 197,161C198,165.8 199.4,171.8 201,178C202.6,184.2 204.8,191.2 206.5,198C208.2,204.8 209.9,212.1 211.5,219C213.1,225.9 214.6,232.7 216,239.5C217.4,246.3 219,253.8 220,260C221,266.2 222,272 222,277C222,282 221.3,286.7 220,290C218.7,293.3 215.8,295.3 214,297C212.2,298.7 211,300.8 209,300C207,299.2 204.3,294.5 202,292C199.7,289.5 197,286.5 195,285C193,283.5 193.3,283.5 190,283C186.7,282.5 180,281.8 175,282C170,282.2 164.7,283.7 160,284C155.3,284.3 150.3,283.2 147,284C143.7,284.8 141.8,286.3 140,289C138.2,291.7 137.3,295.7 136,300C134.7,304.3 133.2,309.7 132,315C130.8,320.3 129.8,326.7 129,332C128.2,337.3 126.8,342.3 127,347C127.2,351.7 128.5,355.8 130,360C131.5,364.2 134.3,368.7 136,372C137.7,375.3 138.7,376.2 140,380C141.3,383.8 142.8,389.7 144,395C145.2,400.3 146,406.2 147,412C148,417.8 149.2,424.5 150,430C150.8,435.5 150.5,440.5 152,445C153.5,449.5 156.5,452.8 159,457C161.5,461.2 164,465.8 167,470C170,474.2 174,478.3 177,482C180,485.7 182.8,489 185,492C187.2,495 187.5,496.2 190,500C192.5,503.8 196.7,510 200,515C203.3,520 206.3,525.5 210,530C213.7,534.5 217.5,538.3 222,542C226.5,545.7 232.3,549.2 237,552C241.7,554.8 246.7,556.8 250,559C253.3,561.2 253.3,563 257,565C260.7,567 267,569.3 272,571C277,572.7 282.8,574 287,575C291.2,576 293.7,577.5 297,577C300.3,576.5 304,574 307,572C310,570 312,566.8 315,565C318,563.2 321.8,561.5 325,561C328.2,560.5 331.5,560.2 334,562C336.5,563.8 338.2,568.2 340,572C341.8,575.8 343.3,581 345,585C346.7,589 348.3,592.8 350,596C351.7,599.2 353.3,598.7 355,604C356.7,609.3 359.2,624 360,628"/>
<path d="M656,630C656,625.8 656.3,611.7 656,605C655.7,598.3 654.3,595.5 654,590C653.7,584.5 653.8,577.8 654,572C654.2,566.2 654.7,560.3 655,555C655.3,549.7 656,543.8 656,540C656,536.2 655.7,536.2 655,532C654.3,527.8 653.3,520.8 652,515C650.7,509.2 648.7,502.8 647,497C645.3,491.2 643.3,486.2 642,480C640.7,473.8 640.3,465.8 639,460C637.7,454.2 636.3,448.3 634,445C631.7,441.7 627.8,441.8 625,440C622.2,438.2 619.3,436.3 617,434C614.7,431.7 613.5,426.5 611,426C608.5,425.5 605.5,428.8 602,431C598.5,433.2 594.5,437.3 590,439C585.5,440.7 578.7,441.3 575,441C571.3,440.7 570.2,439 568,437C565.8,435 564.7,431.8 562,429C559.3,426.2 555.3,423.7 552,420C548.7,416.3 544.5,411.2 542,407C539.5,402.8 538.3,399.5 537,395C535.7,390.5 534.8,382.8 534,380C533.2,377.2 531.5,379.3 532,378C532.5,376.7 534.8,375 537,372C539.2,369 542.5,364.5 545,360C547.5,355.5 549.7,349.7 552,345C554.3,340.3 557.8,336.7 559,332C560.2,327.3 559.7,321.2 559,317C558.3,312.8 557.3,310.7 555,307C552.7,303.3 548.3,298.8 545,295C541.7,291.2 538.3,287.2 535,284C531.7,280.8 528.8,278 525,276C521.2,274 515.2,274 512,272C508.8,270 506.5,267.3 506,264C505.5,260.7 508.2,256 509,252C509.8,248 511,243.7 511,240C511,236.3 510.5,233.2 509,230C507.5,226.8 504.8,223.3 502,221C499.2,218.7 495.7,217.8 492,216C488.3,214.2 483.7,212.7 480,210C476.3,207.3 472.8,203.3 470,200C467.2,196.7 463.5,192.5 463,190C462.5,187.5 465.8,187.5 467,185C468.2,182.5 470.2,178.2 470,175C469.8,171.8 468.2,167.8 466,166C463.8,164.2 459.8,164.2 457,164C454.2,163.8 451.2,166.2 449,165C446.8,163.8 445.7,160.3 444,157C442.3,153.7 439.8,149.5 439,145C438.2,140.5 438,135 439,130C440,125 442.3,119.7 445,115C447.7,110.3 450.8,106.2 455,102C459.2,97.8 465,93.3 470,90C475,86.7 480,83.8 485,82C490,80.2 495,79.8 500,79C505,78.2 511.7,76.2 515,77C518.3,77.8 517.8,82.8 520,83.5C522.2,84.2 524,82.8 528,81.5C532,80.2 538.5,77.7 544,76C549.5,74.3 557.6,72 561,71.5C564.4,71 563.8,71.8 564.5,73C565.2,74.2 564.9,76.3 565,79C565.1,81.7 564.2,85.5 565,89C565.8,92.5 568,97 570,100C572,103 575,105.6 577,107C579,108.4 580.2,108.8 582,108.5C583.8,108.2 585.7,107.1 588,105C590.3,102.9 593.7,98.8 596,96C598.3,93.2 599.3,90.7 602,88C604.7,85.3 609,81.8 612,80C615,78.2 617,76.8 620,77C623,77.2 626.3,80.2 630,81C633.7,81.8 637.8,81.3 642,82C646.2,82.7 651.3,83 655,85C658.7,87 660.7,90.8 664,94C667.3,97.2 671.5,100.2 675,104C678.5,107.8 682.2,112.3 685,117C687.8,121.7 688.7,127.3 692,132C695.3,136.7 700.3,142 705,145C709.7,148 714.2,148.8 720,150C725.8,151.2 733.7,152 740,152C746.3,152 752.2,150.7 758,150C763.8,149.3 772.2,148.3 775,148"/>
<path d="M618,-8C618.5,-6.3 619.5,-1.2 621,2C622.5,5.2 624.7,9 627,11C629.3,13 632.8,14.7 635,14C637.2,13.3 639,9 640,7C641,5 640.7,4.5 641,2C641.3,-0.5 641.8,-6.3 642,-8"/>
<path d="M245,-10C244.7,-8.3 244.8,-5.8 243,0C241.2,5.8 237.3,16.7 234,25C230.7,33.3 226.3,41.7 223,50C219.7,58.3 216.7,66.7 214,75C211.3,83.3 208.5,91.7 207,100C205.5,108.3 205.2,117.2 205,125C204.8,132.8 205.2,140.3 206,147C206.8,153.7 208.3,159.5 210,165C211.7,170.5 214,175 216,180C218,185 220.2,190.8 222,195C223.8,199.2 225.3,200.5 227,205C228.7,209.5 230.2,216.2 232,222C233.8,227.8 235.8,233.7 238,240C240.2,246.3 242.7,253.8 245,260C247.3,266.2 250,272 252,277C254,282 254.8,285.8 257,290C259.2,294.2 262.5,297.5 265,302C267.5,306.5 269.5,312 272,317C274.5,322 277.7,327.3 280,332C282.3,336.7 284.2,340.8 286,345C287.8,349.2 289.5,352.8 291,357C292.5,361.2 294,366.2 295,370C296,373.8 297,377.2 297,380C297,382.8 296.2,384.2 295,387C293.8,389.8 292.5,393.7 290,397C287.5,400.3 283.8,404.5 280,407C276.2,409.5 271.2,411.2 267,412C262.8,412.8 259.2,412.5 255,412C250.8,411.5 245.5,410.7 242,409C238.5,407.3 237.3,404.5 234,402C230.7,399.5 226,395.8 222,394C218,392.2 213.7,390.8 210,391C206.3,391.2 202.8,392.8 200,395C197.2,397.2 194.2,399.8 193,404C191.8,408.2 191.8,414.5 193,420C194.2,425.5 197.7,431.2 200,437C202.3,442.8 204.5,449.2 207,455C209.5,460.8 212.5,466.2 215,472C217.5,477.8 219.5,485 222,490C224.5,495 227,498.7 230,502C233,505.3 236.3,508.5 240,510C243.7,511.5 247.8,511.8 252,511C256.2,510.2 260.8,507.5 265,505C269.2,502.5 272.8,498.5 277,496C281.2,493.5 286.2,492.3 290,490C293.8,487.7 297.3,485 300,482C302.7,479 304.3,475.7 306,472C307.7,468.3 309.2,464.2 310,460C310.8,455.8 310.3,450.8 311,447C311.7,443.2 312.5,440 314,437C315.5,434 317.5,431 320,429C322.5,427 326.2,425.3 329,425C331.8,424.7 334.3,425 337,427C339.7,429 342.5,433.2 345,437C347.5,440.8 349.5,445.3 352,450C354.5,454.7 357.5,460 360,465C362.5,470 365,476 367,480C369,484 370.2,485.7 372,489C373.8,492.3 376.4,496 378,500C379.6,504 380.7,508.7 381.5,513C382.3,517.3 382.1,521.7 382.7,526C383.3,530.3 384.1,534.3 385,539C385.9,543.7 386.9,549.3 388,554C389.1,558.7 390.4,563 391.6,567C392.8,571 393.4,574.3 395,578C396.6,581.7 399.2,585.3 401,589C402.8,592.7 404.7,597.2 406,600C407.3,602.8 407.8,601.3 409,606C410.2,610.7 412.3,624.3 413,628"/>
<path d="M592,630C591,625.8 587.7,610 586,605C584.3,600 583.8,602.5 582,600C580.2,597.5 577,593 575,590C573,587 571.5,585 570,582C568.5,579 567.7,576.2 566,572C564.3,567.8 561.8,561.5 560,557C558.2,552.5 556.3,549.5 555,545C553.7,540.5 552.5,535.5 552,530C551.5,524.5 551.7,517.8 552,512C552.3,506.2 554,500.3 554,495C554,489.7 553.2,485 552,480C550.8,475 548.7,469.7 547,465C545.3,460.3 543.7,456.7 542,452C540.3,447.3 538.7,442 537,437C535.3,432 533.7,427 532,422C530.3,417 529,412 527,407C525,402 522.7,396.5 520,392C517.3,387.5 512.7,384.5 511,380C509.3,375.5 510.8,369.7 510,365C509.2,360.3 508.2,355.3 506,352C503.8,348.7 500.5,347.8 497,345C493.5,342.2 488.5,338.3 485,335C481.5,331.7 477.7,328.8 476,325C474.3,321.2 475,316.7 475,312C475,307.3 475.7,302 476,297C476.3,292 476.5,287 477,282C477.5,277 479.2,271.5 479,267C478.8,262.5 477.3,259.2 476,255C474.7,250.8 473.7,246.2 471,242C468.3,237.8 464,234.2 460,230C456,225.8 451.2,221.2 447,217C442.8,212.8 439.3,209.5 435,205C430.7,200.5 423.7,194.2 421,190C418.3,185.8 419.7,184.2 419,180C418.3,175.8 417.8,170 417,165C416.2,160 415.2,155.5 414,150C412.8,144.5 410.5,137.5 410,132C409.5,126.5 409.8,121.5 411,117C412.2,112.5 413.8,109.2 417,105C420.2,100.8 425.3,95.8 430,92C434.7,88.2 440,85.3 445,82C450,78.7 455,75.3 460,72C465,68.7 470.5,65.7 475,62C479.5,58.3 483.3,54.5 487,50C490.7,45.5 494,39.7 497,35C500,30.3 502,25.8 505,22C508,18.2 511.3,15.3 515,12C518.7,8.7 524.2,5.7 527,2C529.8,-1.7 531.2,-8 532,-10"/>
<path d="M272,-10C271.7,-8.3 272.7,-5.8 270,0C267.3,5.8 260.8,16.7 256,25C251.2,33.3 245.2,41.7 241,50C236.8,58.3 233.8,66.7 231,75C228.2,83.3 225.5,91.7 224,100C222.5,108.3 222.2,117.2 222,125C221.8,132.8 222,140.3 222.5,147C223,153.7 224.1,159.8 225,165C225.9,170.2 227,173.8 228,178C229,182.2 229.7,186 231,190C232.3,194 234.2,196.7 236,202C237.8,207.3 239.7,215.3 242,222C244.3,228.7 247.5,235.7 250,242C252.5,248.3 254.2,254.5 257,260C259.8,265.5 263.2,270.5 267,275C270.8,279.5 276.2,282.8 280,287C283.8,291.2 286.7,295.3 290,300C293.3,304.7 297.2,310 300,315C302.8,320 304.5,325 307,330C309.5,335 312.5,340 315,345C317.5,350 319.5,355.8 322,360C324.5,364.2 327.3,366.7 330,370C332.7,373.3 334.7,375.8 338,380C341.3,384.2 346.3,389.7 350,395C353.7,400.3 356.7,406.2 360,412C363.3,417.8 367.2,424.5 370,430C372.8,435.5 375.3,441.7 377,445C378.7,448.3 378.3,446.7 380,450C381.7,453.3 384.5,460 387,465C389.5,470 392,474.7 395,480C398,485.3 402.2,491.2 405,497C407.8,502.8 409.7,509.2 412,515C414.3,520.8 417,527.3 419,532C421,536.7 422.2,539.2 424,543C425.8,546.8 427.7,550.3 430,555C432.3,559.7 435.5,565.5 438,571C440.5,576.5 442.8,582.7 445,588C447.2,593.3 449.2,596.3 451,603C452.8,609.7 455.2,623.8 456,628"/>
<path d="M548,630C547,625.8 543.8,611.7 542,605C540.2,598.3 538.7,595.5 537,590C535.3,584.5 533.7,577.8 532,572C530.3,566.2 528.2,560.3 527,555C525.8,549.7 525.5,545.8 525,540C524.5,534.2 524.5,526.3 524,520C523.5,513.7 522.5,507.8 522,502C521.5,496.2 521.3,490.8 521,485C520.7,479.2 520.7,472.5 520,467C519.3,461.5 518.3,457 517,452C515.7,447 513.7,442 512,437C510.3,432 508.7,427 507,422C505.3,417 504,412 502,407C500,402 497.8,396.5 495,392C492.2,387.5 487.5,382.5 485,380C482.5,377.5 482.2,379.2 480,377C477.8,374.8 474.7,370.7 472,367C469.3,363.3 466.5,359.2 464,355C461.5,350.8 458.5,345.8 457,342C455.5,338.2 455.2,335.3 455,332C454.8,328.7 455.2,325.7 456,322C456.8,318.3 459,314.2 460,310C461,305.8 461.8,301.7 462,297C462.2,292.3 461.5,287.3 461,282C460.5,276.7 460.5,270.3 459,265C457.5,259.7 454.8,255 452,250C449.2,245 445.7,240.5 442,235C438.3,229.5 434.2,222.5 430,217C425.8,211.5 420.5,206.2 417,202C413.5,197.8 410.8,194.8 409,192C407.2,189.2 406.8,188.7 406,185C405.2,181.3 405.2,175 404,170C402.8,165 401.2,160 399,155C396.8,150 393.2,145.5 391,140C388.8,134.5 387,127.8 386,122C385,116.2 385,110.3 385,105C385,99.7 385.7,94.2 386,90C386.3,85.8 386.7,83 386.7,80C386.7,77 386.5,74.3 386,72C385.5,69.7 384.6,68.3 383.5,66C382.4,63.7 380.4,61.2 379.5,58C378.6,54.8 378,50.5 378,47C378,43.5 379.2,40.5 379.5,37C379.8,33.5 380.1,29.5 380,26C379.9,22.5 379.8,19 379,16C378.2,13 376.8,10.7 375.5,8C374.2,5.3 372.2,3 371,0C369.8,-3 368.5,-8.3 368,-10"/>
<path d="M426.8,-8C426.8,-6.3 427.9,-0.8 426.8,2C425.7,4.8 422.2,6.5 420,9C417.8,11.5 415.6,13.9 413.7,17C411.8,20.1 409.7,24.3 408.4,27.6C407.1,30.9 407.1,33.9 405.8,36.8C404.5,39.6 402,42.5 400.5,44.7C399,46.9 397.2,48.3 396.6,50C396,51.7 396,53.5 396.6,55C397.2,56.5 399.2,57.8 400.5,59C401.8,60.2 402.3,61.6 404.5,62.5C406.7,63.4 410.6,63.5 413.7,64.5C416.8,65.5 420.3,67.7 423,68.4C425.7,69.2 428.1,69.7 430,69C431.9,68.3 433,66 434.7,64.5C436.4,63 437.9,62.1 440,60C442.1,57.9 444.2,55 447,52C449.8,49 453.7,45.7 457,42C460.3,38.3 464.5,34.2 467,30C469.5,25.8 471,21.7 472,17C473,12.3 472.8,6.2 473,2C473.2,-2.2 473,-6.3 473,-8"/>
<path d="M276,129C279.2,128.5 287.2,126.2 295,126C302.8,125.8 314.7,127.5 323,128C331.3,128.5 340,127.7 345,129C350,130.3 351.2,132.7 353,136C354.8,139.3 355.5,145.3 356,149C356.5,152.7 354.8,156 356,158C357.2,160 361,158.3 363,161C365,163.7 365.5,169.2 368,174C370.5,178.8 374.2,184.5 378,190C381.8,195.5 386.8,201.5 391,207C395.2,212.5 399.2,217.5 403,223C406.8,228.5 410.8,234.7 414,240C417.2,245.3 419.5,249.7 422,255C424.5,260.3 427.7,266.7 429,272C430.3,277.3 430.3,282.3 430,287C429.7,291.7 428.7,295.8 427,300C425.3,304.2 422,307.8 420,312C418,316.2 416.5,320.3 415,325C413.5,329.7 411.7,337.5 411,340L410,341C408.7,339.8 405.3,336 402,334C398.7,332 393.7,330 390,329C386.3,328 383.3,328.7 380,328C376.7,327.3 373.8,326.8 370,325C366.2,323.2 361.2,320 357,317C352.8,314 348.7,310.3 345,307C341.3,303.7 338,300.7 335,297C332,293.3 329.5,288.7 327,285C324.5,281.3 322.8,278 320,275C317.2,272 313.8,269.3 310,267C306.2,264.7 301.2,263.5 297,261C292.8,258.5 288.7,255.5 285,252C281.3,248.5 278,244.5 275,240C272,235.5 269.2,230 267,225C264.8,220 263.7,215 262,210C260.3,205 258.5,200 257,195C255.5,190 253.7,184 253,180C252.3,176 252.3,175.3 253,171C253.7,166.7 255.3,159.2 257,154C258.7,148.8 262,142.3 263,140Z"/>
<path d="M419,381C421.2,381 422.2,384.3 424,387C425.8,389.7 428,393.7 430,397C432,400.3 434.2,404 436,407C437.8,410 440,412.5 441,415C442,417.5 442.3,419.7 442,422C441.7,424.3 440.8,427.5 439,429C437.2,430.5 433.5,431.3 431,431C428.5,430.7 426.7,428.8 424,427C421.3,425.2 417.8,422.7 415,420C412.2,417.3 409.2,414 407,411C404.8,408 402.3,404.7 402,402C401.7,399.3 403.5,397.5 405,395C406.5,392.5 408.7,389.3 411,387C413.3,384.7 416.8,381 419,381Z"/>
<path d="M288.4,199.5C288.7,197.9 289.7,197.6 291,196.8C292.3,196 294.2,195.3 296,194.8C297.8,194.3 299.6,193.5 301.6,193.7C303.6,193.9 305.7,195.1 308,195.8C310.3,196.5 313.4,196.5 315.3,197.9C317.2,199.3 318.3,201.6 319.5,204.2C320.7,206.8 321.9,210.7 322.6,213.7C323.3,216.7 323.9,219.7 323.7,222C323.5,224.3 323,225.8 321.6,227.4C320.2,229 317.6,230.8 315.3,231.6C313,232.4 310.3,232.1 308,232C305.7,231.9 303.7,231.7 301.6,231C299.5,230.3 296.8,229.5 295.3,228C293.8,226.5 293.3,224.2 292.6,222C291.9,219.8 291.6,217.3 291,214.7C290.4,212.1 289.4,208.8 289,206.3C288.6,203.8 288.1,201.1 288.4,199.5Z"/>
<path d="M370,265C370.8,264.7 374,266.7 375,268C376,269.3 376.7,271.7 376,273C375.3,274.3 372,276.5 371,276C370,275.5 370.2,271.8 370,270C369.8,268.2 369.2,265.3 370,265Z"/>
</g>
<path d="M306.5,124H323.5V127.9L306.5,126.7Z" fill="#910000"/><path d="M306.5,126.7L323.5,127.9V130.5H306.5Z" fill="#64007d"/>
<g fill="none" stroke="#000" stroke-width="2.3" stroke-linejoin="round" stroke-linecap="round">
<path d="M-5,24C-3.8,23.8 -1.3,23.7 2,23C5.3,22.3 10,22 15,20C20,18 25.8,14 32,11C38.2,8 47.7,4.5 52,2C56.3,-0.5 57,-3 58,-4"/>
<path d="M96,-5C96,-3.8 96,-0.8 96,2C96,4.8 95.3,8.7 96,12C96.7,15.3 98.2,18.7 100,22C101.8,25.3 103.7,28.3 107,32C110.3,35.7 115.3,39.8 120,44C124.7,48.2 130.5,52.7 135,57C139.5,61.3 142.8,66.2 147,70C151.2,73.8 155.8,77.2 160,80C164.2,82.8 168.8,84.7 172,87C175.2,89.3 177.3,91 179,94C180.7,97 180.8,100.7 182,105C183.2,109.3 184.7,116 186,120C187.3,124 188.7,124.8 190,129C191.3,133.2 192.8,139.8 194,145C195.2,150.2 195.2,155.5 197,160C198.8,164.5 202,168.8 205,172C208,175.2 211.3,177.3 215,179C218.7,180.7 223.5,180.7 227,182C230.5,183.3 233.8,185.5 236,187C238.2,188.5 238.3,189.8 240,191C241.7,192.2 243.2,192.8 246,194C248.8,195.2 252.5,197 257,198C261.5,199 267.5,200.3 273,200C278.5,199.7 284.8,197.8 290,196C295.2,194.2 299.8,191.8 304,189C308.2,186.2 311,182.3 315,179C319,175.7 323.5,172.2 328,169C332.5,165.8 337.3,163.3 342,160C346.7,156.7 351.7,153.2 356,149C360.3,144.8 364.8,139.7 368,135C371.2,130.3 373.5,126.8 375,121C376.5,115.2 377,107 377,100C377,93 375.6,85.8 375,79C374.4,72.2 374,65.6 373.5,59C373,52.4 372.4,46 372,39.5C371.6,33 371.4,27.4 371,20C370.6,12.6 369.8,-0.8 369.6,-5"/>
<path d="M712,561C712.3,562.2 713.3,565.3 714,568C714.7,570.7 716.3,573.3 716,577C715.7,580.7 713.7,585.8 712,590C710.3,594.2 708,597.8 706,602C704,606.2 701,612.8 700,615"/>
</g>
<g fill="none" stroke="#0a0a0a" stroke-width="3" stroke-linejoin="round" stroke-linecap="round">
<path d="M-5,362C-4.2,361.7 -2.5,361.2 0,360C2.5,358.8 6.3,356 10,355C13.7,354 18.3,353.7 22,354C25.7,354.3 29,355.8 32,357C35,358.2 35,360.3 40,361C45,361.7 54.5,361 62,361C69.5,361 79.2,360.5 85,361C90.8,361.5 93.3,362.2 97,364C100.7,365.8 103.7,371 107,372C110.3,373 113.2,371.3 117,370C120.8,368.7 125.8,366.3 130,364C134.2,361.7 138.7,357.5 142,356C145.3,354.5 147.7,354.3 150,355C152.3,355.7 154.3,357.5 156,360C157.7,362.5 158.7,366.7 160,370C161.3,373.3 162.3,377.5 164,380C165.7,382.5 167.8,384.5 170,385C172.2,385.5 175,383.8 177,383C179,382.2 180.5,381.8 182,380C183.5,378.2 184.7,373.7 186,372C187.3,370.3 186.8,371 190,370C193.2,369 200.8,366 205,366C209.2,366 211.7,368.3 215,370C218.3,371.7 221.3,374.5 225,376C228.7,377.5 233.3,379.3 237,379C240.7,378.7 243.7,375.5 247,374C250.3,372.5 253.2,370.2 257,370C260.8,369.8 267.5,371.5 270,373C272.5,374.5 268.7,378.3 272,379C275.3,379.7 285.8,376.8 290,377C294.2,377.2 294.2,378.8 297,380C299.8,381.2 303.2,382.2 307,384C310.8,385.8 315.8,388.8 320,391C324.2,393.2 328.3,396.2 332,397C335.7,397.8 338.7,397 342,396C345.3,395 348.7,392.5 352,391C355.3,389.5 358.7,387 362,387C365.3,387 369,389.5 372,391C375,392.5 377.5,395.5 380,396C382.5,396.5 384.2,395.5 387,394C389.8,392.5 394.5,389.3 397,387C399.5,384.7 400.7,381.2 402,380C403.3,378.8 403.3,381.7 405,380C406.7,378.3 408.7,373 412,370C415.3,367 420.8,364.2 425,362C429.2,359.8 433.7,358 437,357C440.3,356 443.5,357.3 445,356C446.5,354.7 445,350.7 446,349C447,347.3 449.5,345 451,346C452.5,347 453.7,351.5 455,355C456.3,358.5 458,362.8 459,367C460,371.2 460.2,376.2 461,380C461.8,383.8 462.5,386.3 464,390C465.5,393.7 467.3,397.8 470,402C472.7,406.2 475.8,411.8 480,415C484.2,418.2 489.7,419.3 495,421C500.3,422.7 506.2,424 512,425C517.8,426 524.5,426.7 530,427C535.5,427.3 540,426.7 545,427C550,427.3 556.3,428.5 560,429C563.7,429.5 565.3,429.5 567,430C568.7,430.5 568.7,430 570,432C571.3,434 572.5,438.2 575,442C577.5,445.8 581.3,450.8 585,455C588.7,459.2 592.8,463.3 597,467C601.2,470.7 605.8,473.8 610,477C614.2,480.2 617.8,482.7 622,486C626.2,489.3 631.2,493.5 635,497C638.8,500.5 642.2,503.7 645,507C647.8,510.3 650,513.2 652,517C654,520.8 654.8,525.8 657,530C659.2,534.2 661.7,538.3 665,542C668.3,545.7 672.5,549.2 677,552C681.5,554.8 687.3,557.5 692,559C696.7,560.5 701.7,560.7 705,561C708.3,561.3 710.2,561.8 712,561C713.8,560.2 714.3,557.2 716,556C717.7,554.8 719.3,553.8 722,554C724.7,554.2 728.7,556.8 732,557C735.3,557.2 739,556.2 742,555C745,553.8 747.8,552.2 750,550C752.2,547.8 753.7,545 755,542C756.3,539 756.8,535.7 758,532C759.2,528.3 761.3,522 762,520"/>
<path d="M650,-5C650,-4.2 649.2,-2.5 650,0C650.8,2.5 653,6.7 655,10C657,13.3 659.2,17.2 662,20C664.8,22.8 668.2,24.7 672,27C675.8,29.3 681.7,31.8 685,34C688.3,36.2 690,37.8 692,40C694,42.2 694.8,46.3 697,47C699.2,47.7 702.8,44 705,44C707.2,44 708,47.7 710,47C712,46.3 714.2,42.2 717,40C719.8,37.8 723.2,35.3 727,34C730.8,32.7 736.7,32.8 740,32C743.3,31.2 745.2,31 747,29C748.8,27 749.7,22.2 751,20C752.3,17.8 753.8,16 755,16C756.2,16 756.7,18.3 758,20C759.3,21.7 762.2,25 763,26"/>
</g>
<text x="0" y="0" transform="translate(315 133) scale(0.7 1)" text-anchor="middle" font-family="Liberation Sans, sans-serif" font-size="12.5" fill="#000" stroke="#000" stroke-width="0.2">150</text>
<text x="0" y="0" transform="translate(152 288) scale(0.7 1)" text-anchor="middle" font-family="Liberation Sans, sans-serif" font-size="12.5" fill="#000" stroke="#000" stroke-width="0.2">60</text>
<text x="0" y="0" transform="translate(649.5 85) scale(0.7 1)" text-anchor="middle" font-family="Liberation Sans, sans-serif" font-size="12.5" fill="#000" stroke="#000" stroke-width="0.2">60</text>
<text x="0" y="0" transform="translate(295.5 581.5) scale(0.7 1)" text-anchor="middle" font-family="Liberation Sans, sans-serif" font-size="12.5" fill="#000" stroke="#000" stroke-width="0.2">60</text>
<g transform="translate(1.1 1.1)" fill="#000"><text transform="translate(290.1 216.8) scale(0.88 1)" font-family="Liberation Sans, sans-serif" font-size="19.6">2</text><rect x="304.6" y="202.7" width="2.2" height="14.1"/><rect x="312.9" y="202.7" width="2.6" height="14.1"/></g><g transform="translate(1.1 0)" fill="#000"><text transform="translate(290.1 216.8) scale(0.88 1)" font-family="Liberation Sans, sans-serif" font-size="19.6">2</text><rect x="304.6" y="202.7" width="2.2" height="14.1"/><rect x="312.9" y="202.7" width="2.6" height="14.1"/></g><g transform="translate(0 1.1)" fill="#000"><text transform="translate(290.1 216.8) scale(0.88 1)" font-family="Liberation Sans, sans-serif" font-size="19.6">2</text><rect x="304.6" y="202.7" width="2.2" height="14.1"/><rect x="312.9" y="202.7" width="2.6" height="14.1"/></g><g transform="translate(-0.7 -0.7)" fill="#000"><text transform="translate(290.1 216.8) scale(0.88 1)" font-family="Liberation Sans, sans-serif" font-size="19.6">2</text><rect x="304.6" y="202.7" width="2.2" height="14.1"/><rect x="312.9" y="202.7" width="2.6" height="14.1"/></g><g transform="translate(-0.7 0.4)" fill="#000"><text transform="translate(290.1 216.8) scale(0.88 1)" font-family="Liberation Sans, sans-serif" font-size="19.6">2</text><rect x="304.6" y="202.7" width="2.2" height="14.1"/><rect x="312.9" y="202.7" width="2.6" height="14.1"/></g><g transform="translate(0.4 -0.7)" fill="#000"><text transform="translate(290.1 216.8) scale(0.88 1)" font-family="Liberation Sans, sans-serif" font-size="19.6">2</text><rect x="304.6" y="202.7" width="2.2" height="14.1"/><rect x="312.9" y="202.7" width="2.6" height="14.1"/></g><g transform="translate(0 0)" fill="#fff"><text transform="translate(290.1 216.8) scale(0.88 1)" font-family="Liberation Sans, sans-serif" font-size="19.6">2</text><rect x="304.6" y="202.7" width="2.2" height="14.1"/><rect x="312.9" y="202.7" width="2.6" height="14.1"/></g>
<g fill="#e8e8e8" stroke="#0c1826" stroke-width="1">
<rect x="529.5" y="39.5" width="5" height="5"/>
<rect x="504.5" y="102.5" width="5" height="5"/>
<rect x="183.5" y="198.5" width="5" height="5"/>
<rect x="-3.5" y="197.5" width="5" height="5"/>
<rect x="278.5" y="196.5" width="5" height="5"/>
<rect x="326.5" y="202.5" width="5" height="5"/>
<rect x="404.5" y="239.5" width="5" height="5"/>
<rect x="79.5" y="282.5" width="5" height="5"/>
<rect x="270.5" y="286.5" width="5" height="5"/>
<rect x="56.5" y="380.5" width="5" height="5"/>
<rect x="427.5" y="411.5" width="5" height="5"/>
<rect x="42.5" y="471.5" width="5" height="5"/>
<rect x="206.5" y="484.5" width="5" height="5"/>
<rect x="555.5" y="480.5" width="5" height="5"/>
<rect x="698.5" y="500.5" width="5" height="5"/>
<rect x="366.5" y="541.5" width="5" height="5"/>
<rect x="685.5" y="578.5" width="5" height="5"/>
</g>
<rect x="337.2" y="605.1" width="422" height="13" fill="#000"/>
<text x="339.5" y="613.6" font-family="Liberation Sans, sans-serif" font-size="8.9" fill="#fff" textLength="417" lengthAdjust="spacingAndGlyphs">Map data © OpenStreetMap contributors, rendering GIScience Research Group @ Heidelberg University</text>
<path d="M0,0H760V618H0Z M2,2V614.5H758V2Z" fill="#000" fill-rule="evenodd"/>
</svg>
<span class="ct" style="left:507.5px;top:27.2px;letter-spacing:1.40px">Valmiera</span>
<span class="ct" style="left:493.2px;top:90.2px;letter-spacing:0.85px">Cēsis</span>
<span class="ct" style="left:165.7px;top:185.7px;letter-spacing:1.36px">Tukums</span>
<span class="ct" style="left:-22px;top:185.2px;letter-spacing:1.33px">Kuldīga</span>
<span class="ct" style="left:260.8px;top:184.2px;letter-spacing:0.89px">Jūrmala</span>
<span class="ct" style="left:318.2px;top:190.7px;letter-spacing:0.76px">Rīga</span>
<span class="ct" style="left:394.5px;top:227.2px;letter-spacing:1.06px">Ogre</span>
<span class="ct" style="left:65px;top:270.2px;letter-spacing:0.96px">Saldus</span>
<span class="ct" style="left:252px;top:274.2px;letter-spacing:1.07px">Jelgava</span>
<span class="ct" style="left:33.2px;top:368.2px;letter-spacing:1.06px">Mažeikiai</span>
<span class="ct" style="left:415px;top:399.2px;letter-spacing:1.18px">Biržai</span>
<span class="ct" style="left:27.8px;top:459.2px;letter-spacing:1.10px">Telšiai</span>
<span class="ct" style="left:191.5px;top:472.7px;letter-spacing:0.49px">Šiauliai</span>
<span class="ct" style="left:536.2px;top:467.7px;letter-spacing:1.06px">Rokiškis</span>
<span class="ct" style="left:674.3px;top:488.4px;letter-spacing:0.66px">Daugavpils</span>
<span class="ct" style="left:340.5px;top:529.2px;letter-spacing:1.06px">Panevėžys</span>
<span class="ct" style="left:662.5px;top:565.7px;letter-spacing:1.06px">Visaginas</span>
<span class="ct" style="left:544px;top:594.5px;letter-spacing:1.05px">Utena</span>
</div>
<div class="t tt" style="left:16.6px;transform:scaleX(1.183)">Accumulated</div>
<div class="t tt" style="left:187.8px;transform:scaleX(1.2165)">total</div>
<div class="t tt" style="left:252.9px;transform:scaleX(1.209)">precipitation</div>
<div class="t tt" style="left:417.3px;transform:scaleX(1.118)">(mm)</div>
<div class="t" style="left:553.11px;top:635px;font-size:11.2px;line-height:14px;transform:scaleX(1.0909)">From</div>
<div class="t" style="left:585.19px;top:635px;font-size:11.2px;line-height:14px;transform:scaleX(1.1323)">Sat</div>
<div class="t" style="left:608.06px;top:635px;font-size:11.2px;line-height:14px;transform:scaleX(1.2094)">27.07.2024,</div>
<div class="t" style="left:684.14px;top:635px;font-size:11.2px;line-height:14px;transform:scaleX(1.2509)">15:00</div>
<div class="t" style="left:722.56px;top:635px;font-size:11.2px;line-height:14px;transform:scaleX(0.9706)">EEST</div>
<div class="t" style="left:568.43px;top:649px;font-size:11.2px;line-height:14px;transform:scaleX(1.2672)">to</div>
<div class="t" style="left:583.81px;top:649px;font-size:11.2px;line-height:14px;transform:scaleX(1.0793)">Tue</div>
<div class="t" style="left:608.06px;top:649px;font-size:11.2px;line-height:14px;transform:scaleX(1.2094)">30.07.2024,</div>
<div class="t" style="left:684.14px;top:649px;font-size:11.2px;line-height:14px;transform:scaleX(1.2509)">06:00</div>
<div class="t" style="left:722.56px;top:649px;font-size:11.2px;line-height:14px;transform:scaleX(0.9706)">EEST</div>
<svg width="760" height="50" viewBox="0 665 760 50" style="position:absolute;left:0;top:665px;display:block">
<rect x="29" y="671.0" width="28.4" height="18.0" fill="#dcdcf0"/>
<rect x="57.1" y="671.0" width="28.4" height="18.0" fill="#b4d7ff"/>
<rect x="85.2" y="671.0" width="28.4" height="18.0" fill="#78b9ff"/>
<rect x="113.2" y="671.0" width="28.4" height="18.0" fill="#3c96fa"/>
<rect x="141.3" y="671.0" width="28.4" height="18.0" fill="#0a82f5"/>
<rect x="169.4" y="671.0" width="28.4" height="18.0" fill="#0a64d2"/>
<rect x="197.5" y="671.0" width="28.4" height="18.0" fill="#0a3c82"/>
<rect x="225.6" y="671.0" width="28.4" height="18.0" fill="#198c1e"/>
<rect x="253.6" y="671.0" width="28.4" height="18.0" fill="#1ec814"/>
<rect x="281.7" y="671.0" width="28.4" height="18.0" fill="#5fe60f"/>
<rect x="309.8" y="671.0" width="28.4" height="18.0" fill="#fff532"/>
<rect x="337.9" y="671.0" width="28.4" height="18.0" fill="#e6dc0a"/>
<rect x="366" y="671.0" width="28.4" height="18.0" fill="#f06400"/>
<rect x="394" y="671.0" width="28.4" height="18.0" fill="#ff8228"/>
<rect x="422.1" y="671.0" width="28.4" height="18.0" fill="#ffa569"/>
<rect x="450.2" y="671.0" width="28.4" height="18.0" fill="#fa507d"/>
<rect x="478.3" y="671.0" width="28.4" height="18.0" fill="#f51e50"/>
<rect x="506.4" y="671.0" width="28.4" height="18.0" fill="#c30000"/>
<rect x="534.4" y="671.0" width="28.4" height="18.0" fill="#910000"/>
<rect x="562.5" y="671.0" width="28.4" height="18.0" fill="#64007d"/>
<rect x="590.6" y="671.0" width="28.4" height="18.0" fill="#c300ff"/>
<rect x="618.7" y="671.0" width="28.4" height="18.0" fill="#dc64ff"/>
<rect x="646.8" y="671.0" width="28.4" height="18.0" fill="#ebaaff"/>
<rect x="674.8" y="671.0" width="28.4" height="18.0" fill="#fae6ff"/>
<rect x="702.9" y="671.0" width="28.4" height="18.0" fill="#d2d2d2"/>
<path d="M29,671.5 L2,680 L29,688.5 Z" fill="#f0f0f0" stroke="#000" stroke-width="1"/>
<path d="M731,671.5 L759,680 L731,688.5 Z" fill="#969696" stroke="#000" stroke-width="1"/>
<path d="M29,671.5H731 M29,688.5H731" stroke="#000" stroke-width="1" fill="none"/>
<path d="M29,671.0V675.5 M29,684.5V689.0 M57.1,671.0V675.5 M57.1,684.5V689.0 M85.2,671.0V675.5 M85.2,684.5V689.0 M113.2,671.0V675.5 M113.2,684.5V689.0 M141.3,671.0V675.5 M141.3,684.5V689.0 M169.4,671.0V675.5 M169.4,684.5V689.0 M197.5,671.0V675.5 M197.5,684.5V689.0 M225.6,671.0V675.5 M225.6,684.5V689.0 M253.6,671.0V675.5 M253.6,684.5V689.0 M281.7,671.0V675.5 M281.7,684.5V689.0 M309.8,671.0V675.5 M309.8,684.5V689.0 M337.9,671.0V675.5 M337.9,684.5V689.0 M366,671.0V675.5 M366,684.5V689.0 M394,671.0V675.5 M394,684.5V689.0 M422.1,671.0V675.5 M422.1,684.5V689.0 M450.2,671.0V675.5 M450.2,684.5V689.0 M478.3,671.0V675.5 M478.3,684.5V689.0 M506.4,671.0V675.5 M506.4,684.5V689.0 M534.4,671.0V675.5 M534.4,684.5V689.0 M562.5,671.0V675.5 M562.5,684.5V689.0 M590.6,671.0V675.5 M590.6,684.5V689.0 M618.7,671.0V675.5 M618.7,684.5V689.0 M646.8,671.0V675.5 M646.8,684.5V689.0 M674.8,671.0V675.5 M674.8,684.5V689.0 M702.9,671.0V675.5 M702.9,684.5V689.0 M731,671.0V675.5 M731,684.5V689.0" stroke="#000" stroke-width="1" fill="none"/>
<text transform="translate(29 708.8) scale(0.72 1)" text-anchor="middle" font-family="Liberation Sans, sans-serif" font-size="14.2" fill="#000">0.1</text>
<text transform="translate(57.1 708.8) scale(0.72 1)" text-anchor="middle" font-family="Liberation Sans, sans-serif" font-size="14.2" fill="#000">1</text>
<text transform="translate(85.2 708.8) scale(0.72 1)" text-anchor="middle" font-family="Liberation Sans, sans-serif" font-size="14.2" fill="#000">2</text>
<text transform="translate(113.2 708.8) scale(0.72 1)" text-anchor="middle" font-family="Liberation Sans, sans-serif" font-size="14.2" fill="#000">3</text>
<text transform="translate(141.3 708.8) scale(0.72 1)" text-anchor="middle" font-family="Liberation Sans, sans-serif" font-size="14.2" fill="#000">5</text>
<text transform="translate(169.4 708.8) scale(0.72 1)" text-anchor="middle" font-family="Liberation Sans, sans-serif" font-size="14.2" fill="#000">7</text>
<text transform="translate(197.5 708.8) scale(0.72 1)" text-anchor="middle" font-family="Liberation Sans, sans-serif" font-size="14.2" fill="#000">10</text>
<text transform="translate(225.6 708.8) scale(0.72 1)" text-anchor="middle" font-family="Liberation Sans, sans-serif" font-size="14.2" fill="#000">15</text>
<text transform="translate(253.6 708.8) scale(0.72 1)" text-anchor="middle" font-family="Liberation Sans, sans-serif" font-size="14.2" fill="#000">20</text>
<text transform="translate(281.7 708.8) scale(0.72 1)" text-anchor="middle" font-family="Liberation Sans, sans-serif" font-size="14.2" fill="#000">25</text>
<text transform="translate(309.8 708.8) scale(0.72 1)" text-anchor="middle" font-family="Liberation Sans, sans-serif" font-size="14.2" fill="#000">30</text>
<text transform="translate(337.9 708.8) scale(0.72 1)" text-anchor="middle" font-family="Liberation Sans, sans-serif" font-size="14.2" fill="#000">40</text>
<text transform="translate(366 708.8) scale(0.72 1)" text-anchor="middle" font-family="Liberation Sans, sans-serif" font-size="14.2" fill="#000">50</text>
<text transform="translate(394 708.8) scale(0.72 1)" text-anchor="middle" font-family="Liberation Sans, sans-serif" font-size="14.2" fill="#000">60</text>
<text transform="translate(422.1 708.8) scale(0.72 1)" text-anchor="middle" font-family="Liberation Sans, sans-serif" font-size="14.2" fill="#000">70</text>
<text transform="translate(450.2 708.8) scale(0.72 1)" text-anchor="middle" font-family="Liberation Sans, sans-serif" font-size="14.2" fill="#000">80</text>
<text transform="translate(478.3 708.8) scale(0.72 1)" text-anchor="middle" font-family="Liberation Sans, sans-serif" font-size="14.2" fill="#000">90</text>
<text transform="translate(506.4 708.8) scale(0.72 1)" text-anchor="middle" font-family="Liberation Sans, sans-serif" font-size="14.2" fill="#000">100</text>
<text transform="translate(534.4 708.8) scale(0.72 1)" text-anchor="middle" font-family="Liberation Sans, sans-serif" font-size="14.2" fill="#000">125</text>
<text transform="translate(562.5 708.8) scale(0.72 1)" text-anchor="middle" font-family="Liberation Sans, sans-serif" font-size="14.2" fill="#000">150</text>
<text transform="translate(590.6 708.8) scale(0.72 1)" text-anchor="middle" font-family="Liberation Sans, sans-serif" font-size="14.2" fill="#000">175</text>
<text transform="translate(618.7 708.8) scale(0.72 1)" text-anchor="middle" font-family="Liberation Sans, sans-serif" font-size="14.2" fill="#000">200</text>
<text transform="translate(646.8 708.8) scale(0.72 1)" text-anchor="middle" font-family="Liberation Sans, sans-serif" font-size="14.2" fill="#000">250</text>
<text transform="translate(674.8 708.8) scale(0.72 1)" text-anchor="middle" font-family="Liberation Sans, sans-serif" font-size="14.2" fill="#000">300</text>
<text transform="translate(702.9 708.8) scale(0.72 1)" text-anchor="middle" font-family="Liberation Sans, sans-serif" font-size="14.2" fill="#000">400</text>
<text transform="translate(731 708.8) scale(0.72 1)" text-anchor="middle" font-family="Liberation Sans, sans-serif" font-size="14.2" fill="#000">500</text>
</svg>
<div class="t" style="left:16.04px;top:724.2px;font-size:11.4px;line-height:14px;transform:scaleX(1.2457)">Grid</div>
<div class="t" style="left:45.06px;top:724.2px;font-size:11.4px;line-height:14px;transform:scaleX(1.1894)">map</div>
<div class="t" style="left:75.29px;top:724.2px;font-size:11.4px;line-height:14px;transform:scaleX(1.3633)">24.4</div>
<div class="t" style="left:109.03px;top:724.2px;font-size:11.4px;line-height:14px;transform:scaleX(1.0440)">E,</div>
<div class="t" style="left:124.20px;top:724.2px;font-size:11.4px;line-height:14px;transform:scaleX(1.3304)">56.6</div>
<div class="t" style="left:157.33px;top:724.2px;font-size:11.4px;line-height:14px;transform:scaleX(1.0362)">N</div>
<div class="t" style="left:170.87px;top:724.2px;font-size:11.4px;line-height:14px;transform:scaleX(1.1737)">(</div>
<div class="t" style="left:177.62px;top:724.2px;font-size:11.4px;line-height:14px;transform:scaleX(1.0593)">Zoom</div>
<div class="t" style="left:212.37px;top:724.2px;font-size:11.4px;line-height:14px;transform:scaleX(1.4065)">level</div>
<div class="t" style="left:251.15px;top:724.2px;font-size:11.4px;line-height:14px;transform:scaleX(1.2124)">4</div>
<div class="t" style="left:262.95px;top:724.2px;font-size:11.4px;line-height:14px;transform:scaleX(2.3329)">/</div>
<div class="t" style="left:272.76px;top:724.2px;font-size:11.4px;line-height:14px;transform:scaleX(1.1941)">Resolution</div>
<div class="t" style="left:340.93px;top:724.2px;font-size:11.4px;line-height:14px;transform:scaleX(1.2681)">400m</div>
<div class="t" style="left:379.18px;top:724.2px;font-size:11.4px;line-height:14px;transform:scaleX(1.3808)">)</div>
<div class="t" style="left:16.13px;top:740.5px;font-size:11.4px;line-height:14px;transform:scaleX(1.0383)">ICON-EU</div>
<div class="t" style="left:70.09px;top:740.5px;font-size:11.4px;line-height:14px;transform:scaleX(1.1392)">(</div>
<div class="t" style="left:76.70px;top:740.5px;font-size:11.4px;line-height:14px;transform:scaleX(1.1022)">5</div>
<div class="t" style="left:86.68px;top:740.5px;font-size:11.4px;line-height:14px;transform:scaleX(1.1499)">days)</div>
<div class="t" style="left:124.27px;top:740.5px;font-size:11.4px;line-height:14px;transform:scaleX(1.1737)">from</div>
<div class="t" style="left:158.55px;top:740.5px;font-size:11.4px;line-height:14px;transform:scaleX(1.2222)">27.07.2024/12z</div>
<svg width="230" height="40" viewBox="530 720 230 40" style="position:absolute;left:530px;top:720px;display:block">
<defs><linearGradient id="lg1" x1="0" y1="0" x2="1" y2="1"><stop offset="0" stop-color="#45d0f8"/><stop offset="1" stop-color="#1f62dc"/></linearGradient>
<linearGradient id="lg2" x1="0" y1="0" x2="0.6" y2="1"><stop offset="0" stop-color="#7fdcff"/><stop offset="0.5" stop-color="#2f8fee"/><stop offset="1" stop-color="#1b5fd8"/></linearGradient></defs>
<circle cx="551.2" cy="737.2" r="4.5" fill="none" stroke="#1c1c1c" stroke-width="1.5"/>
<path d="M554.6,740.6L559,744.8" stroke="#1c1c1c" stroke-width="2.1" stroke-linecap="round"/>
<text x="542.9" y="749.8" font-family="Liberation Sans, sans-serif" font-size="6.6" font-weight="bold" fill="#1c1c1c" textLength="10.9" lengthAdjust="spacingAndGlyphs">HD</text>
<rect x="564" y="732" width="32.4" height="19" fill="#888" opacity="0.5"/>
<rect x="563" y="730.8" width="32" height="6.4" fill="#000"/>
<rect x="563" y="737.2" width="32" height="6.5" fill="#dd0000"/>
<rect x="563" y="743.7" width="32" height="6.2" fill="#ffce00"/>
<path d="M612.8,731.4L620.7,735.9V745L612.8,749.5L604.9,745V735.9Z" fill="#f4fbff" stroke="url(#lg1)" stroke-width="1.5" stroke-linejoin="round"/>
<path d="M606,744.7L611.4,734.6L614.2,739.6L616.6,746.6L612.8,748.6Z" fill="url(#lg2)"/>
<path d="M612.3,734.3L616.4,736.3L619.6,744.9L616.9,746.5L614.4,739.6Z" fill="#9aa4b0"/>
<path d="M613.6,735.6L616,736.9L617.6,741.4L615.4,740Z" fill="#d4dae2"/>
<text x="623.6" y="746.1" font-family="Liberation Sans, sans-serif" font-size="19.8" font-weight="bold" fill="#0c1a3a" textLength="124.4" lengthAdjust="spacingAndGlyphs">meteologix.com</text>
</svg>
</div></body></html>
